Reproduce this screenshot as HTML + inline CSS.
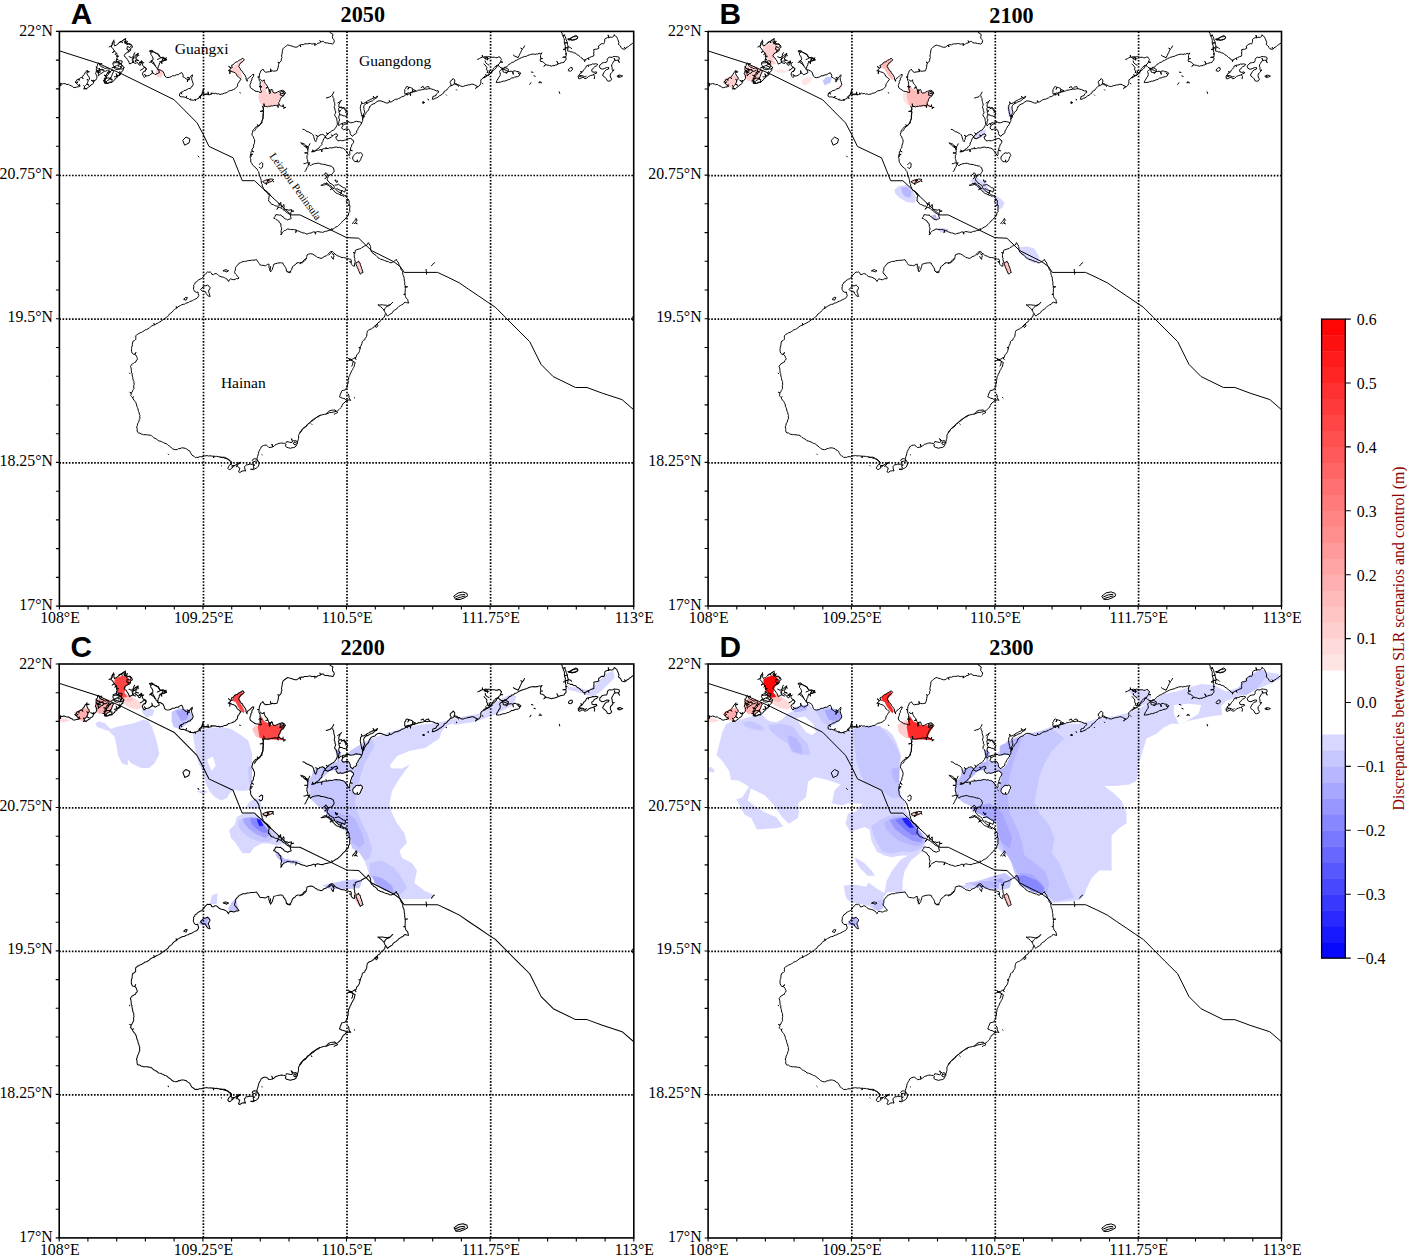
<!DOCTYPE html><html><head><meta charset="utf-8"><style>html,body{margin:0;padding:0;background:#fff;width:1407px;height:1256px;overflow:hidden}svg{display:block}</style></head><body>
<svg width="1407" height="1256" viewBox="0 0 1407 1256">
<defs>
<g id="coast" fill="none" stroke="#000" stroke-width="1.0" stroke-linejoin="round" stroke-linecap="round">
<polyline points="-0.4,51.8 1.2,51.9 1.3,54.7 1.5,51.9 2.7,52.7 4.4,52.1 6,52.4 7.5,53.2 9.2,52.9 10.4,53.9 11.9,54.5 13.2,55 14,56.1 15.6,56.2 17.2,55.6 19.1,55.4 20.9,54.5 19.3,54.1 20.2,53 19.1,54 18.3,52.9 16.9,51.8 18.7,50.4 16.7,51.6 15.6,50.6 17.1,49.7 17.7,48.1 19.5,47.6 19.8,49.1 19.8,47.5 20.9,46.5 22.4,45.9 23.7,47.4 22.6,45.8 23.6,44.9 24.1,43.6 25.2,42.8 25.8,41.1 27.1,39.9 27.9,38.8 27.6,40.5 30,40.3 27.6,40.8 27.5,42.2 28.6,44.4 29.8,45.8 30.2,47.6 28.9,48.9 27.6,47.8 28.7,49.2 28.4,50.8 27.5,52.5 29.8,53.9 27.4,52.8 26.3,54 25.2,55 24.3,54.2 25.1,55.3 25,56.5 27.1,57.7 24.8,56.7 24.3,57.7 25.9,57.1 27.5,57 29.1,55.8 30.7,54.8 31.5,53.5 33.1,53 33.9,51.8 34.3,50.4 31.6,48.7 34.5,50.2 35.2,49.4 33.9,48.9 35.4,49.2 36.4,48.6 37.2,47.2 37.6,45.7 37.2,43.8 36.1,42.2 36.8,40.7 37,39.1 39.6,39.7 37,38.8 36.9,37.4 37.2,35.6 38.2,33.9 38.3,32.3 39.6,31.4 40.1,32.6 42.7,32.3 40.2,32.9 40.3,33.9 41.4,34.8 42.5,35.6 43.9,35.8 44.9,36.9 46.4,37 47.8,36.4 48.8,37.4 49.9,38.2 49.2,39.7 51.4,40.6 49.1,39.9 48.6,41.2 47.3,42.6 46.5,44.4 45.8,45.8 46,47.4 45.7,48.9 45.4,50.3 45.1,51.8 47,52 46.8,50.1 47.3,52 48.9,51.8 50.2,51.4 51.5,50.9 52.9,50.8 53.9,49.5 55.3,48.6 55.9,47.1 57.4,46.5 58.1,44.8 56.9,44.5 58.3,44.5 59.5,43.5 60.7,42.6 59.1,41.3 60.9,42.3 61.6,41.4 62.3,40.1 63.6,39.3 63.9,37.6 64.6,36.1 63.7,34.8 62.5,33.7 61.7,32.3 60.2,31.6 58,30.5 57.2,29.5 57.1,27.8 58.9,28.4 57.2,27.5 58,26.5 57.2,24.9 59.4,24.8 57.2,24.6 57.7,23.3 57.3,21.8 55.7,23.2 57.2,21.6 56.1,20.9 55.3,19.8 53,21.2 55.2,19.6 54.5,18.8 53.4,16.9 51.8,15.6 52.9,13.2 52.9,11.3 54,9.7 55,10.3 54.5,12.4 55.3,14.5 57.4,13.5 58.5,12.6 59.5,11.5 61.6,10.3 63.8,9.2 64.8,8.1 65.9,7.3 66.3,8.8 64.6,10.3 65.6,11.2 66.7,9.2 65.9,11.4 67,11.5 69.1,12.6 70.7,13.1 72.3,13.7 73.2,15.8 71.2,16.9 71.3,18.7 70.2,20.1 68,21.1 65.9,22.2 64.8,24.3 65.7,25.6 67,26.5 67.9,28.1 69.1,29.7 69.7,31.1 70.2,32.6 72.3,31.6 74.2,30.5 73.7,29.1 73.4,27.5 74.4,25.4 75.4,24.2 76.6,23.3 78.7,22.2 77.9,23.6 77.8,25.3 76.6,26.5 76.7,28.3 79.4,29.1 76.6,28.6 75.5,29.7 77.1,30.7 78.7,31.8 79.4,33.3 80.8,33.9 81.9,31.8 82.4,29.7 83,31.8 83.1,33.5 84,35 86.2,36.1 87,37.1 86.2,39.3 84,40.3 83,42.5 83.6,43.7 84,44.9 84.9,46 86.4,44.8 85.1,42.8 86.7,44.6 88.3,44.4 90,43.9 91.5,42.8 93,41.8 92.6,39.1 93.3,41.8 94.7,42.2 95.8,43.3 97.9,42.2 100,41.2 99.5,39 98.3,38.3 97.9,36.9 96.8,36.1 96.3,34.8 95.2,33.9 94.7,32.6 92.6,31.6 91.5,29.5 93.6,28.4 93.6,26.8 93.1,25.4 92.4,24.3 91.5,23.3 91.5,21.4 90.4,19.9 92.6,19.9 94.7,20.9 96.8,22 99,23.3 100,25.4 102.2,26.5 103.9,26.5 102.7,29.3 104.2,26.6 105.4,27.5 107.5,28.4 105.9,28.9 105.5,26.8 105.6,29 104.3,29.5 102.2,29.7 101.3,30.8 100,31.6 99.9,33.3 99,34.8 98.4,37.1 99.3,38.4 100.9,38.6 102.2,39.3 103.8,40.3 104.8,42.5 105.4,44.6 106.8,45.8 108.6,46.2 110.2,45.8 111.8,45.4 113.1,44.3 115,44.4 117.1,43.3 118.9,43.3 120.3,42.2 122.4,41.2 123.2,42.5 123.8,43.9 123.5,45.4 125.3,46.2 126.7,47.6 128.4,47.8 127.9,50.6 128.7,47.9 129.9,48.6 130,47 127.9,46 130.2,46.7 130.9,45.7 131.9,44.5 132.9,43.3 133.1,44.8 132.3,46.1 132.3,47.6 132.7,49.2 133.4,50.8 133.9,52.9 132.9,55 131.6,55.8 130.9,57.2 129.1,57.1 127.7,58.2 126.3,58.9 124.6,59.1 123.5,60.4 121.6,60.9 122.5,62.8 121.3,61.1 120.3,62.5 120.1,64.6 121.7,65.5 123.5,65.4 125,65.7 126.4,66.3 127.3,64.5 126.7,66.4 127.7,67 129.3,67.2 130.5,68.4 131.2,67.3 130.7,68.5 132,68.6 134.1,68.9 135.6,68.1 136.2,69.5 135.9,68 137.3,67.8 139.5,66.8 140.4,65.6 141.1,67.2 140.6,65.4 141.6,64.8 142.4,63.3 142.7,61.6 143.3,60.1 143.7,58.4 144.8,57.4 144,58.6 143.8,60 143.9,61.4 143.7,62.7 145.3,63.2 146.9,63.2 148.3,63.1 149.6,63.2"/>
<polygon points="45.4,47.6 46.9,47.2 48.2,46.6 49.7,46.5 51,47.9 51.6,45.9 51.3,48 52.9,48.1 52.6,49.4 52.4,50.8 50.3,50.7 48.6,51.8 47,52.1 45.4,51.3 45.3,49.4 43.6,49.6 45.3,49.1"/>
<polygon points="54,31.6 55.3,31.4 56.7,31.2 58.1,31.4 59.3,30.5 60.3,31.4 59.1,32.2 60.5,31.7 61.1,32.5 62.1,33.4 62.5,34.8 61.9,36.3 60.5,34.5 61.7,36.5 60.6,37.2 59.3,38 57.7,38.2 56.3,37.8 55,36.9 55.1,35.5 52.4,36.5 55,35.2 54.3,34.3 53.6,33"/>
<polyline points="55,45.4 56.5,45.3 57.9,44.7 56.8,42.2 58.2,44.6 59.3,44.4 60.7,43.6 61.4,42.2 60.4,40.1"/>
<polygon points="38,40.1 39.7,39.9 40.6,38.3 39.7,36.7 40.9,38.2 42.2,38 43.6,38.8 44.4,40.1 43,41.6 41.2,42.2 40.2,43.4 39,44.4 39.2,42.8 38.7,41.4 41.2,40.4 38.6,41.2"/>
<polyline points="139.6,65.7 140.5,64.4 141.7,63.6 142.8,62.5 144.4,62.5 146,62.7 147.5,62.4 148.8,63.2 148.7,60.4 149.1,63.3 150.3,63.2 152,62.8 151.8,61.3 152.3,62.7 153.5,61.6 154.8,62.3 156.4,61.9 157.7,62.7 159.1,62.3 160.6,63.1 162,62.7 163.4,62.5 164.8,61.7 166.3,61.6 168,60.8 169.5,59.5 171.1,59.2 172.6,58.8 174.3,58.1 175.8,57.2 176.8,56 178,55 178.1,53.4 178.6,51.8 179.6,50.9 180.1,49.7 181.7,47.8 180.4,46.8 179.3,45.7 178,44.9 177.4,43.5 176.7,42.4 175.8,41.4 174.3,40.8 172.6,40.3 170.9,39.3 170.4,42.4 170.6,39.2 168.9,39.3 170.7,38 171.5,36.7 169.2,34.9 171.8,36.5 172.9,36.1 172.1,33.9 173.9,33.3 175,31.8 176.5,30.7 178.2,30.2 179.7,28.9 181.4,28.1 183.5,26.8 184.9,28.4 183.3,30.2 181.4,31.3 180.3,32.9 179.3,35 180.6,37.1 181.9,39.3 183.2,40 183.5,41.4 184.6,42.5 186,44.6 186.7,46.1 186.7,47.8 187.8,49.9 187.8,48.1 188.9,46.7 190.5,45.7 192.1,44.1 193.1,43.1 194.5,43 194,45.1 192.6,46.7 192.5,48.5 191.5,49.9 191.6,51.4 190.8,52.8 190.5,54.2 191,56.3 192.5,57.5 194.2,58.4 195.6,59.6 197.4,60 199.1,60.2 200.6,61.1 202.2,60.6 201.5,59 201.1,57.4 200.8,56 202.6,55.3 200.8,55.7 201.2,54.5 199.6,55.2 201.2,54.2 200.6,53.1 200.9,51.6 200.7,50.2 199.9,48.9 199.6,47.4 199.9,46 198.3,45.6 199.9,45.7 199.9,44.6 200.1,42.6 201,40.9 201.4,39.4 202.6,38.7 203.6,37.7 204.8,39.8 206.4,40.9 208.3,40.5 210.2,40.3 211.6,40 211.1,37.4 211.9,40 212.9,39.4 214.4,39.8 216,39.5 217.6,39.3 218.3,37.7 218.7,36.1 219,34.5 219.2,32.9 219.7,31.5 218.4,30.7 219.9,31.3 220.8,30.7 221.9,29.3 221.9,27.5 222.7,26.2 222.1,24.7 222.4,23.3 222.7,21.9 223,20.4 223,19 223.7,17.2 225.1,15.8 226.2,15 227.3,14.3 228.3,13.5 229.7,13.9 231.1,14.3 232.6,14.7 234.1,15.3 235.8,15.8 237.5,15.7 239,14.7 240.4,13.6 241.3,15.5 240.7,13.5 242.2,13.1 243.9,13.3 245.4,12.4 246.8,12.4 248.2,12.4 249.6,12.1 251.1,12 252.4,12.7 253.9,12.4 255.6,12.3 255.5,14.2 255.9,12.4 257.1,13.1 258.4,11.8 260.3,11.5 261.4,10.7 260.4,9.1 261.7,10.6 262.5,10 264,9.9 265,11.2 266.7,11.5 268.3,11.5 269.9,12.1 271.5,12.1 273.1,12.6 274.2,11.8 274.7,10.5 274.9,9 274.1,7.8 273.1,6.7 273.1,5.1 273.6,3 272.3,2.1 270.9,1.4 270.4,-0.4"/>
<polyline points="201.2,48.1 202,49.2 203.4,49.7 204.8,48.4 205,50.2 205.7,51.8 206.6,53.2 207.8,54.2 208.5,55.8 206.5,56.7 208.6,56 209.1,57.4 209.6,58.6 211.1,58.6 209.6,58.9 210.1,59.8 209.8,61.2 210.2,62.5 211,61.4 210.9,60 209.3,59.7 211,59.7 211.9,59 212.3,57.7 213.3,59 213.4,60.6 214.8,61.6 216.6,61.4 218.1,60.5 219.8,59.8 221.4,59.3 223,58.8 224.9,59.8 226.2,61.6 224.8,63.1 224,64.8 221.9,65.9 220.8,68 220.3,69.8 219.2,71.2 219.8,73.4 220.9,74.3 222.2,74.8 223.5,75.1 223.8,73.2 223.8,75.3 224.8,75.7 224.4,77.3 225.1,75.9 226.2,76"/>
<polyline points="219.8,73.4 218.4,73.6 218.8,76.2 218.2,73.7 217.2,74.3 215.8,73.9 214.4,74.2 213.1,74.6 211.8,74.4 210.5,75 209.1,74.8 207.9,75.5 206.3,74.9 205,75.2 204.5,72.2 204.7,75.3 203.8,76 204,77.6 203.7,79.3 200.8,80 203.8,79.6 204.2,80.8 203.8,82.4 203.6,84 203.5,85.6 203.6,87.2 202.8,88.6 202.5,90 202.7,91.5 201.3,92.2 200.6,93.6 199.1,94.6 198,93.1 198.9,94.8 197.9,95.8 196.8,96.9 196,98.3 195,99.6"/>
<polygon points="220.6,60.9 222.2,60.2 223.8,59.8 224.6,61.2 222,62.3 224.7,61.5 225.4,62.5 224.3,63.6 222.8,64.1 220.6,63.6 221.1,62.2"/>
<polyline points="180.4,61.2 181,61.6"/>
<polyline points="310.5,75.3 311.3,74.1 312.4,73.2 313.7,72.6 315.6,72 316.9,70.5 318.7,69.6 320.6,69.4 322.5,69.9 324.4,70.5 325.7,71.2 327.1,71.6 328.6,71.6 330.1,70.7 329.8,69.1 330.4,70.6 331.8,70.5 333.5,69.5 335,68.4 336.4,67.8 338,67.8 339.3,67 340.8,66.6 342,65.4 343.6,65.2 345,64.4 346.3,63.5 347.8,63 349.4,62.7 350.8,62.2 351.2,64.3 351.1,62.1 352.1,61.2 353.4,60.4 353,58.1 353.7,60.3 355,60.5 356.4,59.8 357.8,59.6 359.1,58.7 360.6,58.8 362,58.3 363.5,58.1 364.9,57.7 366.3,57.6 367.8,57.8 369.2,57.2 370.8,57.3 372.4,57.7 374,58.1 375.5,58.8 377.1,59.5 378.7,59.3 379.3,60.9 378.1,61.6 377.1,62.5 376.6,64.1 375,64.6 373.4,65.2 373.3,66.5 372.9,67.8 374.6,67.7 376.1,66.8 377.5,66.4 378.7,65.6 379.8,64.6 381.5,63.8 383,62.5 384.3,61.7 384.8,60 386.2,59.3 387.5,58.5 388.3,57.1 389.4,56.1 390.8,54.7 392.6,54 393.9,53.5 394.7,52.4 396.2,53.2 397.9,53.4 399.6,53.6 401.1,54.5 402.7,55 404.3,55 405.8,54.2 407.5,54 408.9,53.4 410.4,53.5 411.8,52.9 413.5,52.8 415,53.4 416.6,54.3 418.2,55 416.9,55.9 416.1,57.2 417.5,55.9 419.3,55 420.6,53.6 421.4,51.8 421.4,50.2 421.4,48.6 422.4,47.5 423.7,46.7 424.6,45.4 425.8,44.8 427.1,44.5 426.2,42.9 427.4,44.4 428.3,43.6 429.6,43.3"/>
<polygon points="345.7,62.5 345.2,61.1 345.5,59.6 345.2,58.2 346.2,57.3 346.6,55.8 347.8,55 349.3,55.8 348.5,58 349.6,55.9 351,56.1 352.8,56.9 354.2,58.2 356.4,59.3 354.6,59.7 353.2,60.9 351.7,60.7 350.4,61.6 348.9,61.4 347.3,62.1 348,63.8 347,62.1"/>
<polyline points="361.7,56.1 363.8,55 364.9,57.2 366,56.5 367,55.6 369.2,55 370.2,57.2"/>
<polyline points="391.5,54 391.6,52.5 390.7,51.2 391,49.7 392.6,48.6 393.7,47 395.3,48.6 395.3,50.3 394.7,51.8 396.4,52.1 397.9,52.9 399,55"/>
<polygon points="363.8,70.5 364.9,71 364.4,71.6"/>
<polyline points="368.6,67.8 368.9,68.2"/>
<polyline points="386.7,63.4 387.1,63.8"/>
<polyline points="396.9,58.2 397.3,58.7"/>
<polyline points="423,51.8 423.5,52.4"/>
<polyline points="418.2,27.9 419.9,27.3 421.4,26.3 423,25.8 422.9,23.7 423.3,25.7 424.6,25.7 425.3,27.1 427.7,25.2 425.6,27.3 426.7,27.9 428.1,27.2 429.6,27.3"/>
<polyline points="425.7,29.5 426.3,31.3 427.8,32.6 429.6,33.7"/>
<polyline points="424.6,46.5 426.2,45.5 427.8,44.4 429.6,43.6 431,42.2 431.7,40.9 432.7,41.6 431.9,40.6 432.7,39.7 433.5,38.4 434.1,36.9 435.3,35.8 436.6,34.4 438.5,33.7 439.6,34.7 440.6,35.8 442.7,36.9 444.2,36.8 445.4,35.7 447,35.8 447.9,34.6 449.1,33.7 450,32.6 451.4,32.2 452.3,31 454.1,30.7 455.5,29.5 457.2,28.9 458.7,27.9 460.3,27.1 461.9,26.3 463.5,25.7 465.1,25.2 466.8,24.9 468.3,24.1 469.7,23.6 471.1,23.1 472.6,22.8 474,22.6 475.5,23.1 476.8,22.5 478.3,22.7 479.7,21.9 481.1,22.2 482.7,21.5 481.7,22.6 481.1,24.1 481.2,25.6 481.3,27.1 483.2,27.1 481.3,27.4 480.7,28.5 481.1,30 482.8,30.2 484.3,31 485.2,32.2 486.3,32.9 484.4,35 486.6,33.1 487.5,33.7 489,33.8 490.4,34.2 491.8,34.8 493.1,34.3 494.7,34.3 496,33.7 497.5,33.4 498.8,32.6 497.4,29.8 499.1,32.5 500.3,32.1 501.7,31.5 503.1,31.2 504.6,31 505.1,29.7 506.4,28.8 506.7,27.3 506.4,25.7 503.3,25.9 506.4,25.4 506.8,24.1 506.2,22.5 507.6,22.6 506.2,22.2 506.7,20.9 506,19.5 506.2,17.9 503.8,18 506.2,17.6 505.6,16.5 508.3,16.5 505.6,16.2 506,14.9 505.6,13.5 505,12 507.8,11.1 505,11.7 504.9,10.5 505,8.9 504.8,7.4 504,6 503.6,4.6 505.7,3.6 503.4,4.4 502.9,3.4 502.8,1.8 501.9,0.7"/>
<polygon points="508.8,7.6 510.3,7.3 511.8,6.8 513.1,6 514.7,4.9 516.3,3.9 517.4,4.6 518.4,5.5 517.4,7.6 515.9,8 514.4,8 513.1,8.7 511.7,8 510.2,8.2"/>
<polyline points="424.6,25.7 426,25.1 427.5,25.7 428.2,28.8 427.8,25.7 428.9,25.2 430.5,25.4 432.1,25.7 433.5,25.9 434.9,25.7 436.3,26.3 437.8,26.3 439.1,25.5 440.6,25.7 441.2,26.9 442.2,27.9 441.5,29 441.1,30.3 443.4,30.8 441,30.6 440.6,31.6 439.4,32.5 438.8,34.1 437.4,34.8 436.7,36.6 435.3,38 434.1,39 432.8,39.8 432.1,41.2 430.6,41.3 429.7,39.1 430.3,41.4 429.4,42.2 428.4,40.7 427.5,41.5 428.3,40.5 427.8,39 427.1,37.7 427.5,36.1 426.7,34.8 425.6,33.8 424.6,32.6"/>
<polygon points="436.9,50.8 437.6,49.1 438.5,47.6 439.4,45.9 440.6,44.4 440.9,42.9 440.7,41.5 440.1,40.1 441.2,38.8 442.7,38 444.2,38.1 445.6,38.4 447,39 448.5,40 450.2,40.1 451.6,39.7 453.1,40.2 453.9,43 453.4,40.2 454.5,39.6 455.9,39.4 457.3,40.2 458.7,40.1 460.1,40.9 461.4,41.7 460.6,43 458.5,41.4 460.4,43.3 459.8,44.4 458.3,45.2 456.6,45.4 455.2,45.8 453.8,46.5 452.3,46.5 451,47.5 449.6,48.2 448.1,48.6 446.7,49.2 445.3,49.7 443.8,49.7 442.2,50.3 440.6,50.8 438.7,51"/>
<polygon points="442.7,36.9 444.4,37 445.9,36.4 447.5,37.1 449.1,38 448.6,39.6 448.1,41.2 446.7,40.8 446.9,42.1 446.4,40.8 445.2,41 443.8,40.6 443.5,38.7"/>
<polyline points="472,40.6 473.6,41"/>
<polyline points="474.5,44.4 475.8,44.9"/>
<polyline points="470.4,52.9 471.5,51.3"/>
<polyline points="479.5,51.3 480.8,51.2 480.5,50 481.1,51.2 482.2,51.3"/>
<polyline points="499.8,60.4 500.3,62"/>
<polyline points="453.9,23.6 455.1,24.6 456.6,25.2 458.7,26.3 459.8,24.1 460.5,22.5 461.4,20.9 462,19.3 462.9,17.9 461.3,16.7 463,17.6 464,16.7 465.1,14.5"/>
<polyline points="203,74.9 203.9,76.6 204.1,78 203.7,79.4 203.9,80.8 203.8,82.2 203.9,83.6 203.7,85 203.7,86.3 203.4,87.6 203,88.9 202.3,90.3 201.6,91.7 200.5,92.9 199.5,94.1 198.4,94.9 197.1,95.3 196,95.9 195.1,97.1 194.1,98.1 193.4,99.4 193.1,101.2 192.5,102.9 193,104.3 194,105.4 194.4,106.9 195.1,108.2 195.3,109.6 195.1,111 194.9,112.4 194.1,113.7 194.2,115.2 193.8,116.6 192.6,117.6 192.5,119.2 194.4,120.5 192.4,119.5 191.6,120.4 191.6,121.8 191.2,123 193.4,122.9 191.1,123.3 191,124.4 192.3,124.5 190.9,124.7 190.7,125.7 191.1,127 191.4,128.3 191.3,129.6 191.6,130.9 192.5,132.1 193.1,133.5 194.2,134.4 195.3,135.7 196.7,136.7 197.8,137.9 198.2,139.1 199.2,140.1 199.5,141.4 199.8,142.8 200.1,144.2 200.6,145.5 201.3,146.7 201.5,148 201.8,149.3 201.9,150.6 202.1,151.9 202.9,153.1 202.8,154.6 203.7,155.8 203.9,157.2 205.2,158.2 206.2,159.5 207.4,160.7 208.3,161.9 209,163.2 210,164.2 209.6,165.5 209.4,166.8 209.4,168.2 209.1,169.5 210.5,170.5 211.3,172 212.6,173 214,173.2 215.2,174.1 216.5,174.6 217.9,174.7 219,175.5 217.5,178 219.3,175.6 220.2,176 221.4,176.5 222.7,177.1 223.7,178.3 224.9,179.1 226.2,179.8 227.1,181.1 228.4,181.7 229.7,182.6 231,183.5 231.2,185.3 231.9,187 230.8,187.6 229.4,187.8 228.4,188.7 227.3,187.9 226.1,187.6 224.9,187 224,185.5 222.4,184.8 221.4,183.5 220.1,183.8 218.8,183.5 217.5,183.2 216.1,183.5 215.9,184.8 214.9,185.8 214.4,187 215.7,187.2 216.7,188.2 217.9,188.7 219.3,189.6 220,191.3 221.4,192.2 221.5,193.6 221.5,194.9 222,196.2 222.3,197.5 221.8,199 221.6,200.5 221.9,202.1 221.4,203.6 222.4,202.6 222.8,201.2 223.9,200.2 224.9,199.2 226.2,198.9 227.3,198.1 228.4,197.5 229.8,197.9 231.2,198.1 232.6,198.2 234,198.1 235.4,198.4 236.9,198.6 236.3,201.3 237.2,198.7 238.2,199.4 239.7,199.8 241,200.6 242.4,201 243.7,201.6 245.1,201.6 246.4,202.3 247.7,202.7 248.9,202.1 250.3,201.8 251.7,201.6 252.9,201 254.2,200.4 255.6,200.8 256.1,202.8 255.9,200.7 256.9,200.6 258.2,200.1 259.5,200.3 260.8,200.7 262.1,200.7 263.4,201 264.7,200.3 266,199.9 267.4,199.8 268.7,199.2 270.1,199.1 271.4,198.7 272.8,198.3 272.4,197 273,198.2 273.9,197.5 275.2,196.5 276.5,195.6 278,195.1 279.2,194 280.4,193 281.4,191.9 282.4,190.9 283.3,189.7 284.5,188.7 285.7,187.7 286.6,186.2 288,185.2 288.9,184.1 289.1,182.5 289.6,181.1 290.6,180 290.2,178.7 290.3,177.3 290.4,176 290.6,174.7 290,173.5 288.5,173.9 290,173.2 289.8,172.1 289.7,170.8 289.7,169.5 289,168.2 286.8,170.1 288.8,168 288.1,167.1 287.1,166 286.2,164.9 286.8,163.7 285.9,164.7 285.1,163.9 283.7,163.5 282.7,162.5 281.6,161.8 280.5,161.1 279.2,160.7 278.1,159.5 276.7,158.5 275.7,157.2 275,156.1 274.6,154.8 273.9,153.7 272.8,153.1 271.7,152.3 270.4,151.9 269.8,150.6 268.6,149.7 267.8,148.4 268,147 268.7,145.6 268.7,144.1 270.4,143.5 272.2,143.2 273.2,142.1 274,140.9 274.8,139.7 274.4,137.9 273.9,136.2 272.8,135.6 271.8,134.7 270.4,134.4 268.7,134.1 266.9,133.6 265.7,133.1 264.3,133 263,132.8 261.7,132.7 260,131.9 258.2,131.8 256.7,132.1 255.3,132.3 253.8,132.7 252.3,133.3 251.2,134.4 250.3,133.3 249.2,132.3 248.5,130.9 248.4,129.6 248.1,128.3 247.5,127 247.7,125.7 247.5,124.3 248.4,123.1 248.2,121.7 245.2,121.5 248.2,121.4 248.5,120.4 248.4,118.9 248,117.5 247.7,116 246.9,114.7 245.9,113.4 244.9,112.6 243.7,112.1 242.4,111.7"/>
<polyline points="261.7,153.7 263,153.4 264.1,152.6 265.2,151.9 266.4,152.5 267.2,151.2 266.7,152.6 267.4,153.4 268.7,153.7 269.9,154.8 271.2,155.9 272.2,157.2 273.5,158.3 274.6,159.5 275.7,160.7 276.7,161.6 277.9,162.2 279.2,162.5 280.4,163.3 281.6,162 280.7,163.5 281.7,164 283.2,164.3 284.5,165.1"/>
<polyline points="275.7,153.7 277.5,153.6 279.2,152.8 280.3,153.8 281.6,154.6 282.7,155.4 283.8,156.2 285.1,156.4 286.2,157.2 285.8,159 285.3,160.7 284,159.9 282.5,159.2 281.4,161.7 282.3,159.1 281,159 279.8,158.4 278.6,157.8 277.4,157.2"/>
<polyline points="293.2,192.2 293.9,190.8 295.1,189.7 296.1,188.5 296.7,187 297.6,188.7 296.9,190.1 296.1,191.3 297.9,192.4 295.9,191.5 295,192.2"/>
<polyline points="237.5,231.7 236.3,232.5 235.4,233.8 234,234.4 233.2,235.4 232.7,236.6 232.3,237.9 231.6,239 231,240.2 230.5,241.4 229.3,240.8 228.1,240.3 227,239.6 226.9,237.8 226.1,236.1 225.2,234.7 224.1,233.4 223.5,231.7 222.2,231.4 220.9,231.4 219.6,231.5 218.2,231.7 216.5,232.2 214.7,232.6 214,233.8 213.9,235.2 213.3,236.5 213,237.9 212.1,239.2 211.2,240.5 210.7,239 210.3,237.5 209.5,236.1 209.6,234.4 209.5,232.6 208.2,233 207.1,233.7 206,234.4 204.7,234.1 203.4,233.9 202,233.9 200.7,233.5 199.8,232.2 199,230.9 198,229.6 197.2,228.2 195.9,228.5 194.6,228.7 193.3,228.9 192,228.8 190.6,229.1 189.2,229.2 187.8,229.4 186.4,230 185,230 183.6,230.1 182.3,230.8 181,231.3 179.7,231.7 179.1,233 177.8,233.8 177.1,235 176.2,236.1 176,237.4 176,238.8 175.3,240 175.3,241.4 176.2,242.6 177.3,243.6 178,244.9 179.7,246.6 178.5,247.4 177,247.2 175.8,247.9 174.5,248.4 172.7,247.9 171,247.5 169.8,248.6 169.2,250.1 168.3,248.8 167.4,247.5 166.3,247 165.1,246.3 163.9,245.8 162.1,245.5 160.4,244.9 159.2,244.1 158.2,243 156.9,242.2 155.4,242.2 154.1,243.2 152.6,243.1 152,241.6 150.8,240.5 149.5,240.9 148.2,240.5 146.4,242.2 144.7,244 144,245.4 142.9,246.6 141.8,247.4 140.6,247.7 139.4,248.4 138.2,249.2 137.3,250.4 135.9,251 135.4,252.5 134.2,253.6 134.5,255.1 134.1,256.6 134.2,258 134.9,259.4 135.9,260.6 137.2,260.9 138.5,260.6 138.8,262.4 139.4,264.1 138.7,265.5 137.7,266.8 136.5,267.3 135.3,268 134.2,268.5 132.9,269.3 131.5,269.8 130.1,270.3 128.9,271.1 127.6,271.5 126.2,271.9 125.1,272.8 123.7,272.9 122.2,273.4 121,274.2 119.7,274.8 118.4,275.5 117.5,276.7 116.8,275.1 117.2,276.9 116.1,277.3 114.9,278.2 113.7,279.3 112.8,280.7 111.4,281.7 110,282.6 109.2,284.2 107.9,285.2 106.8,286.1 105.6,287 104.4,287.8 103,288.6 101.9,289.7 100.5,290.5 99.1,291.3 97.9,292 96.4,292.5 95.3,293.6 94.5,291.9 95.1,293.7 93.9,293.9 92.4,294.5 91.1,295.4 89.9,296.5 88.6,297.4 87.3,298.1 85.8,298.4 84.7,299.4 83.4,300.1 82.2,301 80.7,301.3 79.5,302.2 78.1,302.7 76.4,304.4 76.4,306.2 76.4,307.9 75.2,309.1 73.7,309.7 73.1,311.4 72.9,313.2 72.9,314.6 72.2,315.8 72.2,317.1 72,318.4 72.2,320.2 72.9,321.9 73.9,322.8 75.3,323 76.5,321 75.5,323.1 76.4,323.7 77.1,324.8 77.5,326.1 78.1,327.2 77.7,328.5 76.6,329.4 76.4,330.7 75.1,331.1 74.1,331.9 72.9,332.5 71.9,333.7 71.1,335.1 71.7,336.5 71.9,338 72,339.5 72,340.8 72.7,342 72.8,343.4 72.9,344.7 73.4,346 73.5,347.4 73.8,348.8 74.6,350 74.5,351.4 74.8,352.8 74.4,354.2 74.3,355.6 74.6,357 74,358.1 73.2,359.2 72.9,360.5 71.9,361.5 70.4,360.9 71.8,361.8 71.9,362.9 71.1,364 72.2,365 73.1,366.1 74.2,365.3 73.3,366.4 73.7,367.5 74.5,368.7 75.5,369.8 76.4,371 76.8,372.3 77.4,373.6 77.4,375 78.1,376.2 78.6,377.5 78.8,378.9 79.2,380.3 79.9,381.5 79.9,382.8 80.6,384.1 80.2,385.5 80.7,386.8 79.9,388.1 79.6,389.7 79,391.1 78.1,392.5 78,394.1 77.2,395.5 77.7,396.8 77.7,398.1 77.8,399.5 78.1,400.8 79.1,401.6 80.6,401.6 81.6,402.5 82.9,402.9 84.2,403.3 85.6,403.2 86.9,403.4 88.2,403.4 89.5,403.8 90.9,403.7 92.1,404.3 93.2,405.2 94.3,406.3 95.6,406.9 96.9,407.6 98.2,408.4 99.1,409.5 100.5,409.7 101.9,410.1 103.1,410.7 104.4,411.3 105.5,412 106.8,412.2 107.9,413 109,414 110.2,414.8 111.4,415.7 113.1,417.4 114.8,418.1 116.7,418.3 118,418.1 119.2,417.1 120.7,417.3 121.9,416.5 123.3,416.5 124.6,416.6 125.9,417 127.2,417.4 128.1,418.5 129.5,419.2 130.7,420 131.1,421.3 131.8,422.4 132.4,423.5 133.6,424.4 134.9,425.1 135.9,426.2 137.2,425.9 138.6,426.1 139.8,425.4 141.2,425.3 142.5,425.4 143.8,424.9 145.1,424.5 146.4,424.4 147.7,424.2 149.1,424.6 150.4,424.5 151.7,424.4 153.1,424.9 154.5,424.6 154.1,426.6 154.8,424.7 155.9,425 157.3,424.9 158.7,425.3 160,425.3 161.3,426 162.6,426.2 163.9,426.2 165.2,426.9 166.6,427 167.8,427.7 169.2,427.9 169.8,429.3 171.2,430 171.8,431.4 171.7,433 172.8,434.3 175.5,434.1 172.8,434.6 172.7,435.8"/>
<polyline points="246.3,227.4 244.8,228.3 243.8,229.5 242.8,230.9 241.5,231.2 240.2,231.5 238.8,231.2 237.5,231.7"/>
<polygon points="144.7,254.5 146.5,254.4 148.2,253.6 149.6,254.8 150.8,256.3 150.4,257.5 149.6,258.6 149.1,259.8 149.4,261.1 150,262.4 150.2,263.8 150.8,265 149.4,264.8 148.2,264.1 147.5,263 146.7,262 146.4,260.6 144.7,260.1 142.9,259.8 141.2,258 142.3,256.8 143.5,255.7"/>
<polygon points="163.9,239.3 165.2,238.6 166.6,238.2 167.8,238.9 169.2,239.3 167.4,240.5 165.7,239.8"/>
<polygon points="124.5,267.6 126.3,265.9 128,266.2 126.8,268.5"/>
<polyline points="108.8,422.7 109.3,423.2"/>
<polyline points="70.2,341.7 70.6,342.3"/>
<polyline points="211.2,235.2 211.1,237.1 210.4,238.7"/>
<polyline points="227,239.3 228.8,241 230,240.4 231.4,240.5"/>
<polyline points="240.6,232.2 241.7,231.6 243,231.3 244.1,230.5 245.3,229.1 246.7,227.9 247.1,226.4 247.4,225 247.6,223.5 249.3,222.7 251.1,222.3 253,222.6 254.6,223.5 255.8,224.4 257.1,225 258.1,226.1 259.9,226.4 261.6,227 263.1,226.6 264.1,225.4 265.5,224.9 266.9,224.4 268.2,223.3 269.4,222.2 270.4,220.9 271.6,220.1 273,220 274.3,221.3 275.6,222.6 276.8,223.6 278.3,224.4 279.8,224.9 281.1,225.6 282.6,226.1 284.2,226.1 285.6,226.4 287,227 288.5,227.3 289.9,227.7 291.4,227.9 291.9,229.1 291.9,230.5 290.1,230.3 291.9,230.8 291.8,231.8 292.3,233.1 293.4,234.3 294.9,234.9 295.4,233.6 295,232.2 295.7,231 295.8,229.6 295.2,228.4 295.5,227 294.8,225.7 294.9,224.4 294.9,223 295.5,221.8 293.8,221.2 295.5,221.5 295.9,220.5 295.8,219.1 297.2,218.3 298.7,217.9 300.2,217.4 301.5,217.1 302.4,216.1 303.7,215.6 304.7,214.8 305.9,214.3 307.2,213.9 308.2,212.6 308.9,211.2 309.7,212.6 310.7,213.9 311.1,215.1 311.3,216.5 311.3,217.8 311.5,219.1 312.1,220.5 313.4,221.4 314.2,222.6 315.5,223.2 316.7,224.1 317.7,225.2 318.6,226.4 320,227 321.2,227.9 322.5,228.1 323.9,228.6 325.1,229.2 326.4,229.6 327.7,230.1 329.1,230.2 330.3,231.2 331.7,231.4 332.9,230.8 334.1,230.4 335.2,229.6 336.9,227.9 337.3,229.3 338.5,230.4 339.1,231.7 339.6,233.1 340,234.4 340.8,235.4 341.3,236.6 341.6,237.9 342.4,239 343.1,240.1 343.4,241.5 343.4,243 343.9,244.4 344.6,245.7 344.8,247.1 344.8,248.6 345.2,249.9 345.4,251.3 345.2,252.8 345.7,254.1 345.6,255.5 348.2,255.4 345.6,255.8 345.9,256.9 345.9,258.3 345.8,259.7 345.7,261.1 345.8,262.5 344.3,263.1 345.8,262.8 345.8,263.8 346.1,265.1 346.6,266.4 348.3,268.2 348.7,269.9 349.2,271.7 347.4,271.3 345.7,270.8 344.5,271.7 343.6,272.8 342.2,273.4 341,274.2 339.7,274.9 338.7,276 337.6,277 336.5,278 335.2,278.7 333.8,279.7 333.1,281.3 331.7,282.2 330.4,282.9 329.2,283.7 328.2,284.8 327.3,283.5 326.4,282.2 325.7,281.1 325.1,279.9 324.7,278.7 322.9,276.9 321.2,275.2 319.8,274.3 318.5,273.4 320,273.6 321.5,273.4 322.9,273.4 324.2,273.6 325.6,273.8 326.9,273.8 328.2,274.3 329.3,273.6 330.7,273.5 331.7,272.5 333.4,270.8 332.1,272.1 330.8,273.4 329.4,274.4 327.7,274.8 326.4,276 325.4,277.3 324.7,278.7"/>
<polyline points="326.4,282.2 325.6,283.2 325.5,284.6 324.7,285.7 323.6,287 322.2,287.9 321.2,289.2 320.2,290.6 318.6,291.3 317.7,292.7 316.3,293.6 315.1,294.8 314.2,296.2 313,296.7 311.9,297.6 310.7,297.9 309.3,298.7 308,299.7 307.8,301 307.4,302.3 307.5,303.6 307.2,304.9 306.5,306.1 305.7,307.1 305.4,308.4 303.9,309.1 302.8,310.2 302.6,312 301.9,313.7 301.1,314.9 301,316.3 299.4,316.2 300.9,316.6 300.6,317.6 300.2,319 299.9,320.3 299.2,321.4 298.4,322.5 297.5,323.4 297,324.7 296.7,326 295.4,326.3 296.6,328.1 295.1,326.4 294.3,327.1 293.1,327.7 291.4,328.2 289.6,328.6 291.4,329 293.1,329.5 294.4,330.4 295.8,331.2 295.2,332.9 294.9,334.7 294.3,335.9 293.6,337 293.1,338.2 292.3,339.3 291.8,340.5 291.4,341.7 290.6,342.8 290.3,344.1 289.6,345.2 289.2,346.5 289.2,347.9 288.7,349.1 288.8,350.5 288.7,351.8 288.1,353.1 288.2,354.4 287.9,355.7 286.8,356.9 286.1,358.4 284.4,358.9 282.6,359.2 282,360.4 281.6,361.6 280.9,362.7 280.7,364.1 280,365.4 281.5,366 282.8,366.8 284.4,367.1 285.6,367.5 286.6,368.5 287.9,368.9 289.6,368.5 291.4,368.9 290.3,367.7 289.6,366.2 289.6,364.4 288.8,362.7"/>
<polyline points="287.9,368.9 286.5,369.5 285.7,370.8 284.4,371.5 283.4,372.7 282.6,374.1 282.1,375.6 280.9,376.8 279.6,378.1 278.3,379.4 277,379.9 275.6,380.3 273.9,380.7 272.1,381.1 270.3,381.2 268.6,382 266.9,382.7 265.1,382.9 263.4,383.3 261.6,383.8 260.3,384 259.5,385.3 258.1,385.5 256.9,386.3 255.7,387.1 254.6,388.1 253.6,389.2 252.2,389.8 251.1,390.8 250,391.7 248.6,392.3 247.6,393.4 246.6,394.8 245.1,395.6 244.1,396.9 243,397.8 242.5,399.2 241.7,400.4 240.6,401.3"/>
<polygon points="296.7,231.4 298.1,230.7 299.3,229.6 299.5,231 300.8,231.8 301,233.1 301.3,234.5 302,235.7 302.3,237.1 302.8,238.4 303.1,239.7 303.7,241 302.2,241.6 301,242.8 300.4,241.6 299.9,240.4 299.3,239.3 298.8,237.7 298,236.4 297.5,234.9 296.8,233.2"/>
<polyline points="366.7,238 366.8,239.6 367.3,241.2 367.1,242.8"/>
<polyline points="372,234.5 373,233.4 373.8,232.2 375.1,231.4"/>
<polyline points="269.5,223.5 270.9,222.3 272.1,220.9 273,222 273.7,223.3 275.1,222.1 273.9,223.6 274.8,224.4 274.1,226.1 273.9,227.9 272.8,226.7 272.1,225.2"/>
<polyline points="315.9,295.3 316.8,294 317.7,292.7 318.5,294.4 316.8,296.2"/>
<polyline points="287.9,329.5 289.2,329.1 290.2,328.3 289.1,326.6 290.5,328.1 291.4,327.7 292.8,329 294,330.3 293.3,331.7 293.1,333.4 292.3,334.7"/>
<polyline points="266.9,382 268.2,381.4 269,380 270.4,379.4 271.6,378.9 273,378.8 274.3,378.8 275.6,378.5 276.8,380 278.3,381.1 277.1,381.8 275.9,382.2 274.8,382.9"/>
<polyline points="294.9,366.2 295.4,366.6"/>
<polyline points="160.6,425.8 162,425.7 163.4,425.9 164.9,425.8 166.4,426.4 167.7,427.2 169.1,428.2 170.6,429 172.3,430.8 172,432.6 169.8,434 169.1,435.4 168.4,436.8 169.8,438.3 171.3,437.9 172.2,436.8 173.4,436.1 174.3,434.9 175.5,434 177.7,432.6 179.8,431.1 181.2,431.1 179.1,432.6 177.7,434 179.1,436.1 180.5,436.8 179.8,439 179.1,440.4 180.5,441.1 182.6,439.7 184.8,439.3 186.2,439.7 185.5,437.5 185.1,435.4 186.1,434.4 186.9,433.3 188.4,433.4 189.7,432.9 191.2,432.8 192.6,432.9 194,432.6 194,434 195.5,433.6 194,434.3 194,435.4 194.7,436.8 193.3,437.9 191.2,437.9 192.6,438 194,438.3 195.4,437.4 196.8,436.8 198.1,435.9 199,434.7 199.7,432.6 199.3,430.4 198.3,429 196.8,427.6 195.4,427.3 194,427.6 192.9,429 194,430.4 196.1,429.7 198.3,429.7 197.9,428.3 197.6,426.9 198.1,425.2 198.7,423.6 199,421.9 199.5,420.1 200.4,418.4 201.3,417 201.8,415.5 204,414.1 205.4,413.8 206.8,413.7 208.2,414.8 209.6,416.2 211.8,415.9 213.3,415.5 212.5,412.6 213.5,415.4 214.6,414.8 215.6,413.8 216.7,413 218.2,412.6 219.6,412 221,411.7 222.4,411.6 223.8,411.9 225.3,412 226.7,413 226,414.8 227.4,415.9 229.2,416.4 231,416.9 232.7,416.3 234.5,416.2 236.6,414.8 237.2,413.3 238.1,412 237.4,409.8 235.9,409.1 234.5,409.8 233.1,408.4 231.7,407.3 232.6,408.8 233.1,410.5 231.7,411.2 230.3,410.8 228.8,410.5 227.1,410.2 226.7,411.2"/>
<polyline points="238.1,411.2 238.3,409.8 238.8,408.4 239.1,407 239.3,405.6 239.1,404.1 240.2,402 240.8,400.5 241.6,399.2 242.8,398.2 243.8,397 245.9,396 247.1,394.8 248,393.5 249,392.4 250.2,391.3 251.6,389.9 252.6,389 253.7,388.1 255.2,387.4 256.5,386.4 258.7,384.9 260.6,383.9"/>
<polygon points="234.5,411.2 235.9,410.5 237,412 235.9,413.4 234.5,412.7"/>
<polyline points="176.9,435.4 177.8,433.8 179.1,432.6 180.1,431.6 181.2,430.8"/>
<polyline points="162,434.3 162.3,434.6"/>
<polyline points="202.5,423.3 202.8,423.5"/>
<polyline points="251.9,392.4 252.6,393.1"/>
<polygon points="123.6,108.6 126.6,105.6 130.6,107.6 129.6,111.6 125.6,113.6"/>
<polyline points="138.6,124.6 139.6,125.6"/>
<polygon points="394.6,564.6 398.6,561.6 403.6,560.6 407.6,562.1 408.1,564.6 404.6,566.6 400.6,568.1 396.6,568.1"/>
<polyline points="396.1,565.6 400.6,563.6 405.1,563.1"/>
<polyline points="397.1,567.1 402.1,565.6 405.6,564.6"/>
<polyline points="574.1,284.6 572.1,287.1 574.1,290.1"/>
<polyline points="266.9,66.6 268.6,66 270.4,65.6 271.6,64.8 272.6,63.8 273.4,62.6 274.4,60.6"/>
<polyline points="273.4,64.6 273.5,65.9 274.4,67.1 274.4,68.6 274.6,69.9 275,71.2 275.4,72.5 275.4,73.9 274.9,75.2 274.9,76.5 275.7,77.7 275.6,79.3 276.4,80.5 276.1,81.8 275.3,83.1 275.4,84.5 276.7,85.8 277.4,87.5 277.5,88.8 277.7,90.1 277.9,91.4 278,92.9 277.4,94.1 276.9,95.4 275.4,97.4 274.1,98.8 272.4,99.4 271.1,100.6 269.4,101.4 268.7,102.7 266.9,101.4 268.5,102.9 267.4,103.4 265.9,105.4 264.4,107.4 263.8,108.8 263.4,110.3 262.4,111.5 262.5,113.2 261.4,114.3 260.4,115.3 259.7,116.5 258.5,117.3 257,118.3 255.5,119.3 254,119.8 252.5,120.3"/>
<polyline points="278.4,71.5 279.8,70.7 281.2,69.8 282.3,68.6 281.1,69.9 280.4,71.5 279.6,72.9 279.4,74.5 279.7,75.8 282.5,75.9 279.7,76.1 279.2,77.2 279.4,78.5 279.5,79.9 281.3,79.2 279.6,80.2 279.6,81.3 280.4,82.5 279.8,83.9 279.4,85.5 279.5,87.1 280.4,88.5 279.5,89.8 279.4,91.4 279,92.9 279.4,94.4 280.3,93.4 281.3,92.4 282.9,92 283,93.7 283.2,91.9 284.3,91.4 285.9,91.3 287.3,90.4 289.3,90.4 287.8,91.5 286.3,92.4 284.6,93.1 283.3,94.4 282.3,96.4 283.1,97.6 284.3,98.4 285.8,97.8 287.3,97.4 289.3,97.9 290.3,99.4 290.8,100.7 290.8,102.1 291.3,103.4 293.3,104.9 294.5,103.3 296.3,102.4 297.3,101.2 297.2,99.5 298.3,98.4 298.8,97 299.6,95.7 300.3,94.4 301.6,93.2 302.2,91.4 300.3,90.4 298.7,90.3 297.3,89.9 295.7,90.2 294.3,90.9 292.8,91.2 291.3,91.4 289.3,90.4"/>
<polyline points="282.3,76.5 284.3,76.5 285.3,78.1 286.3,79.5 287.1,80.7 288.3,81.5 287.6,82.7 287.4,84.1 287.3,85.5 285.3,84.5 283.7,84.3 282.3,83.5 280.4,83.5"/>
<polyline points="302.2,91.4 302.9,90.2 303.3,88.9 303.2,87.5 304.3,86.4 304.3,84.7 302.7,84.2 304.5,84.5 305.2,83.5 306.2,82.5 306.8,80.9 308.2,79.8 309.2,78.5 309.7,76.9 310.3,75.3"/>
<polyline points="303.2,87.5 303.2,85.8 305.1,85 303.1,85.5 302.2,84.5 302.3,82.9 301.7,81.5 301.5,80 301.2,78.5 300.8,76.8 301.2,75.2 301.2,73.5 302.5,72.4 302,70.3 302.8,72.2 304.2,72 305.7,71.4 306.9,70.4 307.6,71.8 307.2,70.3 308.2,69.5 309.6,69 310.8,68.1 312.2,67.6 313.5,66.9 314.8,66.4 313.7,64.6 315.1,66.3 316.2,66.1 318.2,64.6 317.2,66.6 315.4,67.2 314.2,68.6 313,69.5 311.5,69.9 310.2,70.5 308.9,71.3 307.6,71.9 306.2,72.5 305,73.8 304.2,75.5 304.6,76.8 304.5,78.3 305.2,79.5 305.1,81.2 304.1,82.7 304.2,84.5"/>
<polyline points="252.5,120.3 253.9,120.4 253.2,118.4 254.2,120.3 255.3,120.1 256.5,119.3 257.7,118.7 259.2,118.8 260.5,118.3 262.2,118.2 262.4,120.6 262.5,118.2 263.7,117.4 265.4,117.3 267.1,117.1 266.6,115.9 267.4,117.1 268.8,117.1 270.4,116.3 272.1,116.6 273.7,116.3 275.4,115.8 277,115.6 278.7,116.2 280.4,115.8 281.6,116.6 283.1,116.6 284.3,117.3 285.5,118.1 286.3,119.3 287.6,120.6 288.3,122.3 289.8,124.3 290.4,123 290.4,121.7 290.3,120.3 290.8,119 293,119.3 290.9,118.7 291.2,117.7 291.3,116.3 292.1,115 292.3,113.5 293.3,112.3 294.1,111 294.3,109.3 292.9,108.7 292.3,107.4 290.8,107 289.3,107.4 287.7,107.4 286.3,108.4 285,108.9 283.7,109.3 282.3,109.3 281,109 279.7,109.4 278.4,109.3 276.9,107.4 276.4,105.4 278.4,104.4 277.4,102.4 275.8,102.7 274.4,103.4 273.5,104.4 271.9,103.4 273.2,104.7 272.4,105.4 270.4,106.4 268.4,107.4 266.4,106.4"/>
<polyline points="243.5,97.9 245.2,98.3 246.5,99.4 247.7,100.3 249.3,100.5 250.5,101.4 252.2,102.1 253.5,103.4 254.3,104.8 254.5,106.4 255,107.8 255.5,109.3 256.5,110.3 256.8,109 257.5,107.8 257.5,106.4 258.3,105.2 256.4,103.7 258.5,105 259.7,104.6 260.5,103.4 262,103.3 263.4,102.9 265.4,104.4 266.4,106.4"/>
<polyline points="241.5,111.3 242.3,112.6 243.8,113.1 244.5,114.3 245.9,115.5 247.5,116.3 248.5,118.3 248.8,117 248.9,115.6 245.9,114.6 248.9,115.3 249.5,114.3 250.5,112.3"/>
<polyline points="244.5,132.2 246,132.1 247.4,131.3 249.1,131.8 250.5,131.2 249.6,132.4 248.8,133.6 248.5,135.2 247.6,136.3 247,137.6 246.4,139 245.5,140.2"/>
<polygon points="293.3,126.3 293.9,124.5 295.3,123.3 296.5,121.9 298.3,121.3 299.5,121.9 301,121.2 302.2,121.8 302.9,123 303.2,124.3 302.2,125.4 301.7,126.8 301.2,128.3 300.3,129.6 299.3,130.7 298,130.4 298,128.4 297.7,130.3 296.6,130.2 295.3,130.2 293.8,128.3"/>
<polygon points="363.4,71 364.4,70.5 364.9,71.3 363.7,71.7"/>
<polyline points="368.7,68.1 369.1,68.4"/>
<polyline points="290.1,126.3 290.7,126.7"/>
<polyline points="264.4,143.2 265.7,142.5 266.4,141.2 267.7,142.5 268.4,144.2 267.1,144.8 266.8,146.5 265.4,147.2"/>
<polyline points="262.4,154.1 263.7,153.7 265.1,153.5 266.3,153.1 267.4,152.1 269.1,152.8 270.4,154.1 271.9,154.8 272.8,156.5 270.9,158.4 273,156.7 274.4,157.1"/>
<polygon points="275.9,148.6 277,149.6 278.4,149.6 277.4,151.1 276.3,150.1"/>
<polyline points="282.3,77.5 283.5,76.5 284.8,76 286.3,78 287.8,80 286.3,81"/>
<polyline points="65.2,11.6 66.6,12 68.2,9.6 66.8,12.2 67.4,13.3 69.7,12.1 71.2,12.6 72,13.8 71.4,15.1 70.3,16.1 68,15 67.8,16.4 67.4,17.8 69.1,18.6 68.7,20.2 69.4,18.6 70.8,18.4"/>
<polyline points="49.8,15.5 51.5,14.7 52.7,13.3 53,11.7 54.3,10.4 54.4,8.7"/>
<polyline points="59.5,11.6 60.3,10.4 61.8,10.1 63.1,11.5 62.1,10 62.9,9.3 63.9,8.4 65.3,8 66.3,7"/>
<polyline points="53.8,30.9 56.1,29.8 58.3,30.3 60.6,29.2 62.9,29.8 62.3,32 60,33.2 58.6,33.7 59.3,35.1 58.3,33.8 57.2,34.3 54.9,35.4 57.2,36.6 58.8,36.8 60,37.7 61.5,37.5 62.9,37.7 64.6,36"/>
<polyline points="69.7,25.2 72,26.3 73.5,25.6 74.3,24.1 74.6,22.6 75.4,21.2"/>
<polyline points="72.6,28 73.8,27 75.4,26.3 76.5,25.4 77.2,24.1 78.3,23.2 79.5,24.3 78.5,23 78.8,21.8"/>
<polyline points="73.1,29.2 73.5,30.7 74.8,31.5 76.5,32"/>
<polyline points="79.9,30.9 81.2,30.2 82.2,29.2 82.5,30.7 79.6,31.6 82.7,31 83.4,32 84.5,30.9"/>
<polyline points="81.1,38.8 83.4,37.7 84.2,36.4 85.6,36 86.8,37.7 85.6,40"/>
<polyline points="90.2,19.5 92.5,18.9 93.6,19.7 92.2,21.1 93.9,19.9 94.7,20.7 97,21.8 99.3,22.9 100.4,25.2"/>
<polyline points="90.2,30.9 91.7,30.5 92.5,29.2 93.9,30.4 94.7,32 95.9,34.3"/>
<polyline points="98.1,28 99.9,27.3 101.5,26.3 103.8,25.8 105,26.5 106.2,27.1 106.9,26.1 106.5,27.3 107.2,28 105.6,28.8 105.4,27.5 105.3,28.9 103.8,29.2 102.3,30.2 102.5,32.3 102,30.3 100.4,30.3"/>
<polyline points="44.7,47.4 47,46.8 47.3,44.8 44.6,43.8 47.4,44.6 48.7,43.4 49.6,42 47.8,41.2 49.8,41.8 50.4,40.6 51.4,39.6 52.7,38.8 54.4,40 53.4,41.6 52.7,43.4 52.3,44.8 51.3,45.8 50.4,46.8 49.7,48.4 48.1,49.1 46.9,50.3 45.3,50.8"/>
<polyline points="36.7,35.4 38.1,36.4 39,37.7 41.3,38.8 43.6,37.7 44.3,39.2 45.8,40 48.1,38.8"/>
<polygon points="203.5,150.1 204.9,149.3 206.4,148.7 207.8,148.3 208.5,150.8 208.1,148.2 209.3,148.1 209.4,149.6 209.5,148 210.7,147.6 212.5,147.7 214.2,148 213.1,149 214.4,150.5 212.9,149.2 212.1,150.1 210.2,150.6 208.5,151.6 207,151.5 207,153.3 206.8,151.6 205.6,151.9 204.4,151.2"/>
<polyline points="199.9,132.9 201,132.1 202.1,131.1 203.5,132.2 203.2,134 203.1,135.8 201.3,137.2 199.9,135.8"/>
<polyline points="219.3,174.5 220.1,173.4 218.9,172.3 220.3,173.1 220.5,172 221.4,170.9 221.4,172.6 221.9,174.2 222.1,175.9 223.3,174.5 224.3,173 224.8,174.7 224.5,176.4 225,178.1 226.4,178.3 227.8,178.1 229.3,178.8 230.7,178.4 232.1,178.1 231.9,179.7 234.4,179.6 231.9,180 231.4,181.4 231.4,183.1"/>
<polyline points="204.9,158.7 207.1,159.8 208.2,160.7 209.2,161.6 210.4,163 211.4,164.4"/>
<polyline points="504.8,3.6 505.7,5.1 506.4,6.8 506.7,8.4 507.5,9.9 508,11.5 508,12.8 508.5,14.1 508.7,15.7 508.5,17.3 508,19.4 510.1,19.9 511.3,20.5 512.7,20.4 513.9,21.3 515.3,21.5 516.6,22 517.4,23.1 519.1,24 520.6,25.2 521.5,26.2 522.7,26.7 523.7,28.3 525.4,28.5 525.2,30.3 525.7,28.4 526.9,27.8 528.4,26.9 529.6,28.4 528.7,26.7 530.1,26.2 532.2,25.2 534.3,24.6 534.5,23.1 534.3,21.5 534.6,19.9 534.3,18.3 535.8,17.8 537.4,17.8 539.5,16.8 539,14.6 540.4,13.8 541.6,12.5 542.9,12.2 544.3,12.5 545,11.3 545.3,9.9 545.3,7.8 546.6,6.9 547.9,6.2 549.3,6.4 548.7,3.5 549.6,6.3 550.6,5.7 551.9,5.9 553.2,5.7 554.3,4.9 554.8,3.6"/>
<polyline points="554.8,3.6 556.2,4.5 557.4,5.7 557.9,7 558.5,8.3 559,9.6 559.5,11 559,13.1 560.1,13.8 561.1,14.6 561.7,16.1 562.7,17.3 564.8,17.8 566.1,17.4 564.9,15.8 566.3,17.2 566.9,16.2 569,15.2 570.2,14 571.6,13.1 572.8,12.1 574.2,11.5"/>
<polyline points="508.5,15.2 509.8,15.8 511.1,16.2 512.2,17.3"/>
<polyline points="508.5,7.8 510,7.7 511.1,6.8 512.6,5.8 514.3,5.2 515.9,5.3 517.4,4.7 518.5,6.2 517.5,7.1 516.4,7.8 515.1,8.6 513.6,8.6 512.2,8.9 510.9,8.4 509.5,8.6"/>
<polygon points="519,46.7 518.7,44.6 519.9,43.5 521.8,45.3 520.1,43.2 520.6,42 522.1,41.5 521.4,39.6 522.3,41.3 523.2,40.4 524.3,38.3 525.4,37.4 526.4,36.2 526.9,34.6 528.4,33.9 529.1,35.2 528.7,33.8 530.1,33.6 531.7,33.4 533.2,32.5 534.8,32.7 536.4,32.3 538.5,33.1 536.9,34.6 535.4,35.2 534.3,36.2 533.5,37.5 532.2,38.3 532.7,40.4 534.8,40.9 536.9,40.4 537.4,41.5 535.3,42.5 533.2,43.6 531.1,44.1 529,45.2 527.4,46.7 525.3,47.3 523.7,45.7 521.6,46.7 520.1,47.3"/>
<polygon points="540.6,33.6 541.9,32.8 542.7,31.5 544,31.3 545.3,31 546.9,31 547.9,29.4 547.8,28 548.5,26.7 550,25.7 551.6,26 553.2,25.7 554.7,25 556.4,25.2 558,25.4 559.5,25.7 560,27.8 558.8,28.6 560,31.3 558.6,28.7 557.4,28.8 555.8,29.1 554.8,26.8 555.5,29.2 554.3,29.9 553.2,32 552.4,33.2 552.2,34.6 552.8,36.1 552.7,37.8 553.3,39 554.8,38.6 553.3,39.3 553.2,40.4 552.1,41.4 551.1,42.5 550.8,44.1 551.1,45.7 552.2,47.8 551.1,49.4 549.5,49.8 547.9,49.4 546.9,47.3 545.3,45.7 543.7,44.6 543.2,43.6 544.3,41.5 545.3,39.9 546.9,38.3 549,37.8 549.5,36.2 548.2,36.1 546.9,36.2 544.8,37.3 542.7,37.8 540.6,36.7 540.1,35.2"/>
<polygon points="509,38.3 509.9,37.1 511.1,36.2 512.7,36.2 513,38.3 511.1,39.9 509.3,39.4"/>
<polygon points="557.9,44.6 559.2,43.9 559.6,46.1 559.4,43.8 560.6,43.6 561.8,44.2 563.2,44.6 561.1,45.7 559.8,45.6 558.5,45.4"/>
<polyline points="534.3,43.6 535.3,45.2 534.8,47.3"/>
<polyline points="519.5,45.7 520.4,44.7 521.6,44.1 523.7,44.6 525.8,45.7 526.9,44.6"/>
</g>
<g id="bline" fill="none" stroke="#000" stroke-width="1.0" stroke-linejoin="round"><polyline points="-0.4,19.3 38,31.6 62.7,42.7 114.7,68.3 137.7,91.5 143.2,101.8 149.6,115 173.7,126.4 182.9,149.3 195.1,149.3 231.9,183.5 240.6,183.5 287.1,206.2 299.3,206.8 312,219.1 334.3,230.3 340.7,235 344.8,241 378.1,241 389.5,246.3 400,251.5 408.8,257.6 419.3,264.6 428.2,270.7 435.9,275.8 446.1,286 457.5,297.5 470.3,310.2 481.7,333.1 493.8,345.2 516.1,356.1 527.6,356.1 542.9,361.8 562.6,368.2 574.6,378.6"/></g>
</defs>
<rect width="1407" height="1256" fill="#fff"/>
<clipPath id="pcA"><rect x="0" y="0" width="574.3" height="574.7"/></clipPath>
<g transform="translate(59.4,31.4)">
<g clip-path="url(#pcA)" >
<polygon points="199.1,63.5 199.8,61.3 202.3,59.9 202.7,57.1 202,52.1 201.6,49.3 203,49.3 205.9,53.5 206.6,58.5 208.4,62.8 210.1,62.1 210.9,58.5 211.9,59.9 215.5,61 220.1,60.6 221.5,66 219,69.5 219.4,73.1 215.5,74.1 210.1,74.8 204.8,74.8 202.3,74.1 199.8,69.9 199.1,66.3" fill="#ffcfcf"/>
<polygon points="96.6,38.6 99.6,37.1 102.6,38.6 103.6,42.6 101.6,46.1 97.6,45.6 96.1,42.1" fill="#ffcfcf"/>
<polygon points="169.1,38.5 172,37.4 174.8,34.5 177.7,32.2 181.1,29.4 183.9,27.7 185,28.8 183.3,31.1 179.4,33.9 179.4,36.8 181.1,40.2 182.2,43 182.8,46.5 181.6,47.6 179.4,45.3 177.1,42.5 174.8,40.8 172,39.9" fill="#ffcfcf"/>
<polygon points="204.8,150.2 208.3,148.4 212.6,147.6 213.5,149.3 210,151.6 206.5,152.3" fill="#ffcfcf"/>
<polygon points="296.7,231.4 299.3,229.6 301,233.1 302.8,238.4 303.7,241 301,242.8 299.3,239.3 297.5,234.9" fill="#ffcfcf"/>
<line x1="144.1" y1="0" x2="144.1" y2="574.7" stroke="#000" stroke-width="1.7" stroke-dasharray="1.6 1.56"/>
<line x1="0" y1="144.1" x2="574.3" y2="144.1" stroke="#000" stroke-width="1.7" stroke-dasharray="1.6 1.56"/>
<line x1="287.6" y1="0" x2="287.6" y2="574.7" stroke="#000" stroke-width="1.7" stroke-dasharray="1.6 1.56"/>
<line x1="0" y1="287.8" x2="574.3" y2="287.8" stroke="#000" stroke-width="1.7" stroke-dasharray="1.6 1.56"/>
<line x1="431.2" y1="0" x2="431.2" y2="574.7" stroke="#000" stroke-width="1.7" stroke-dasharray="1.6 1.56"/>
<line x1="0" y1="431.5" x2="574.3" y2="431.5" stroke="#000" stroke-width="1.7" stroke-dasharray="1.6 1.56"/>
<use href="#coast" transform="scale(1.00000,1.00000)"/>
<use href="#bline" transform="scale(1.00000,1.00000)"/>
</g>
<rect x="0" y="0" width="574.3" height="574.7" fill="none" stroke="#000" stroke-width="1.6"/>
<path d="M-3.5,0H0M0,574.7v3.5M-3.5,28.7H0M28.7,574.7v3.5M-3.5,57.5H0M57.4,574.7v3.5M-3.5,86.2H0M86.1,574.7v3.5M-3.5,114.9H0M114.9,574.7v3.5M-3.5,143.7H0M143.6,574.7v3.5M-3.5,172.4H0M172.3,574.7v3.5M-3.5,201.1H0M201,574.7v3.5M-3.5,229.9H0M229.7,574.7v3.5M-3.5,258.6H0M258.4,574.7v3.5M-3.5,287.4H0M287.1,574.7v3.5M-3.5,316.1H0M315.9,574.7v3.5M-3.5,344.8H0M344.6,574.7v3.5M-3.5,373.6H0M373.3,574.7v3.5M-3.5,402.3H0M402,574.7v3.5M-3.5,431H0M430.7,574.7v3.5M-3.5,459.8H0M459.4,574.7v3.5M-3.5,488.5H0M488.2,574.7v3.5M-3.5,517.2H0M516.9,574.7v3.5M-3.5,546H0M545.6,574.7v3.5M-3.5,574.7H0M574.3,574.7v3.5" stroke="#000" stroke-width="1.1" fill="none"/>
<text x="-6.5" y="4.8" text-anchor="end" font-family="'Liberation Serif', serif" font-size="15.8" fill="#000">22°N</text>
<text x="-6.5" y="147.2" text-anchor="end" font-family="'Liberation Serif', serif" font-size="15.8" fill="#000">20.75°N</text>
<text x="-6.5" y="290.5" text-anchor="end" font-family="'Liberation Serif', serif" font-size="15.8" fill="#000">19.5°N</text>
<text x="-6.5" y="434.4" text-anchor="end" font-family="'Liberation Serif', serif" font-size="15.8" fill="#000">18.25°N</text>
<text x="-6.5" y="578.5" text-anchor="end" font-family="'Liberation Serif', serif" font-size="15.8" fill="#000">17°N</text>
<text x="0.6" y="591.7" text-anchor="middle" font-family="'Liberation Serif', serif" font-size="15.8" fill="#000">108°E</text>
<text x="144.2" y="591.7" text-anchor="middle" font-family="'Liberation Serif', serif" font-size="15.8" fill="#000">109.25°E</text>
<text x="287.8" y="591.7" text-anchor="middle" font-family="'Liberation Serif', serif" font-size="15.8" fill="#000">110.5°E</text>
<text x="431.3" y="591.7" text-anchor="middle" font-family="'Liberation Serif', serif" font-size="15.8" fill="#000">111.75°E</text>
<text x="574.9" y="591.7" text-anchor="middle" font-family="'Liberation Serif', serif" font-size="15.8" fill="#000">113°E</text>
<text x="303.4" y="-9" text-anchor="middle" font-family="'Liberation Serif', serif" font-weight="bold" font-size="22.2" fill="#000">2050</text>
<text x="11.3" y="-7.2" font-family="'Liberation Sans', sans-serif" font-weight="bold" font-size="29.8" fill="#000">A</text>
<text x="115.4" y="23.1" font-family="'Liberation Serif', serif" font-size="15.6">Guangxi</text>
<text x="299.6" y="34.2" font-family="'Liberation Serif', serif" font-size="15.5">Guangdong</text>
<text x="161.5" y="356.3" font-family="'Liberation Serif', serif" font-size="15.5">Hainan</text>
<text transform="translate(209.7,124.8) rotate(54)" font-family="'Liberation Serif', serif" font-size="10.8">Leizhou Peninsula</text>
</g>
<clipPath id="pcB"><rect x="0" y="0" width="573.4" height="574.5"/></clipPath>
<g transform="translate(708.1,31.5)">
<g clip-path="url(#pcB)" >
<polygon points="15.5,47.9 21.2,45.1 26.9,43.7 30.5,46.5 28.3,52.2 24.1,56.5 18.4,55" fill="#ffcfcf"/>
<polygon points="36.2,36.6 41.1,33.7 48.2,35.1 53.9,39.4 52.5,46.5 46.8,49.4 39.7,49.4 36.2,45.1" fill="#ffcfcf"/>
<polygon points="55.3,15.2 59.6,12.4 65.3,11 69.6,13.8 71,18.1 66.7,22.3 65.3,28 68.1,32.3 62.4,33.7 59.6,29.4 56.8,23.8 55.3,19.5" fill="#ffcfcf"/>
<polygon points="66.8,38.8 72.5,37.8 80.2,39.7 76.3,41.6 68.7,40.7" fill="#ffe4e4"/>
<polygon points="93.5,49.3 97.4,46.4 104,45.5 103.1,50.2 97.4,54.1 94.5,53.1" fill="#ffe4e4"/>
<polygon points="114.6,49.3 118.4,45.5 124.1,45.5 122.2,51.2 116.5,54.1" fill="#c7c7ff"/>
<polygon points="129.8,55 132.7,53.1 133.7,56.9 130.8,57.9" fill="#ffe4e4"/>
<polygon points="173,36.3 174.2,31.8 178.7,28.9 183.3,27.2 183.8,29.5 179.9,34 181,38.6 183.3,42 185.6,46.6 184.4,48.8 182.1,46.6 178.7,42 176.5,37.5" fill="#ffbaba"/>
<polygon points="194.8,62.7 198.6,58.8 200.5,62.7 200.5,74.1 197.7,72.2 195.2,68.4" fill="#ffe4e4"/>
<polygon points="198.6,64.6 200.5,53.1 204.4,56.9 212,60.8 223.5,60.8 221.6,66.5 219.7,72.2 225.4,76 213.9,75.1 204.4,76 200.5,73.2" fill="#ffbaba"/>
<polygon points="202.5,150.6 208.2,147.7 213,148.3 210.1,151.5 204.4,152.1" fill="#ffc5c5"/>
<polygon points="186.2,158.2 191,154.4 198.6,153.4 204.4,158.2 208.2,165.9 206.3,171.6 198.6,170.6 191,165.9 187.2,162" fill="#d7d7ff"/>
<polygon points="192.9,156.3 198.6,155.3 203.4,160.1 202.5,165.9 196.7,164.9 193.9,161.1" fill="#b7b7ff"/>
<polygon points="223.5,184 227.3,183.1 229.2,187.8 226.3,188.8" fill="#b7b7ff"/>
<polygon points="227.3,197.4 233,196.4 239.9,197.4 239.9,200.2 233,199.9" fill="#c7c7ff"/>
<polygon points="264.2,106.6 271.7,99.1 277.9,97.9 276.7,104.1 269.2,107.8" fill="#d7d7ff"/>
<polygon points="299.1,74.2 304,76.7 302.8,85.4 300.3,84.2" fill="#d7d7ff"/>
<polygon points="261.8,148.9 269.2,146.4 276.7,151.3 281.7,158.8 276.7,161.3 269.2,156.3" fill="#d7d7ff"/>
<polygon points="285.4,163.8 291.6,166.3 296.6,171.2 294.1,176.2 290.4,178.7 287.9,173.7" fill="#d7d7ff"/>
<polygon points="231.9,196.1 236.9,197.4 239.4,201.1 231.9,201.1" fill="#d7d7ff"/>
<polygon points="311.5,216 319,214.8 326.4,217.3 331.4,226 330.2,232.2 323.9,230.9 316.5,226 311.5,221" fill="#d7d7ff"/>
<polygon points="295.3,230.9 299.1,229.7 302.8,239.6 299.1,242.1 296.6,235.9" fill="#ffc5c5"/>
<line x1="143.8" y1="0" x2="143.8" y2="574.5" stroke="#000" stroke-width="1.7" stroke-dasharray="1.6 1.56"/>
<line x1="0" y1="144.1" x2="573.4" y2="144.1" stroke="#000" stroke-width="1.7" stroke-dasharray="1.6 1.56"/>
<line x1="287.2" y1="0" x2="287.2" y2="574.5" stroke="#000" stroke-width="1.7" stroke-dasharray="1.6 1.56"/>
<line x1="0" y1="287.7" x2="573.4" y2="287.7" stroke="#000" stroke-width="1.7" stroke-dasharray="1.6 1.56"/>
<line x1="430.5" y1="0" x2="430.5" y2="574.5" stroke="#000" stroke-width="1.7" stroke-dasharray="1.6 1.56"/>
<line x1="0" y1="431.3" x2="573.4" y2="431.3" stroke="#000" stroke-width="1.7" stroke-dasharray="1.6 1.56"/>
<use href="#coast" transform="scale(0.99843,0.99965)"/>
<use href="#bline" transform="scale(0.99843,0.99965)"/>
</g>
<rect x="0" y="0" width="573.4" height="574.5" fill="none" stroke="#000" stroke-width="1.6"/>
<path d="M-3.5,0H0M0,574.5v3.5M-3.5,28.7H0M28.7,574.5v3.5M-3.5,57.5H0M57.3,574.5v3.5M-3.5,86.2H0M86,574.5v3.5M-3.5,114.9H0M114.7,574.5v3.5M-3.5,143.6H0M143.3,574.5v3.5M-3.5,172.3H0M172,574.5v3.5M-3.5,201.1H0M200.7,574.5v3.5M-3.5,229.8H0M229.4,574.5v3.5M-3.5,258.5H0M258,574.5v3.5M-3.5,287.2H0M286.7,574.5v3.5M-3.5,316H0M315.4,574.5v3.5M-3.5,344.7H0M344,574.5v3.5M-3.5,373.4H0M372.7,574.5v3.5M-3.5,402.1H0M401.4,574.5v3.5M-3.5,430.9H0M430.1,574.5v3.5M-3.5,459.6H0M458.7,574.5v3.5M-3.5,488.3H0M487.4,574.5v3.5M-3.5,517H0M516.1,574.5v3.5M-3.5,545.8H0M544.7,574.5v3.5M-3.5,574.5H0M573.4,574.5v3.5" stroke="#000" stroke-width="1.1" fill="none"/>
<text x="-6.5" y="4.8" text-anchor="end" font-family="'Liberation Serif', serif" font-size="15.8" fill="#000">22°N</text>
<text x="-6.5" y="147.2" text-anchor="end" font-family="'Liberation Serif', serif" font-size="15.8" fill="#000">20.75°N</text>
<text x="-6.5" y="290.4" text-anchor="end" font-family="'Liberation Serif', serif" font-size="15.8" fill="#000">19.5°N</text>
<text x="-6.5" y="434.2" text-anchor="end" font-family="'Liberation Serif', serif" font-size="15.8" fill="#000">18.25°N</text>
<text x="-6.5" y="578.2" text-anchor="end" font-family="'Liberation Serif', serif" font-size="15.8" fill="#000">17°N</text>
<text x="0.6" y="591.5" text-anchor="middle" font-family="'Liberation Serif', serif" font-size="15.8" fill="#000">108°E</text>
<text x="143.9" y="591.5" text-anchor="middle" font-family="'Liberation Serif', serif" font-size="15.8" fill="#000">109.25°E</text>
<text x="287.3" y="591.5" text-anchor="middle" font-family="'Liberation Serif', serif" font-size="15.8" fill="#000">110.5°E</text>
<text x="430.6" y="591.5" text-anchor="middle" font-family="'Liberation Serif', serif" font-size="15.8" fill="#000">111.75°E</text>
<text x="574" y="591.5" text-anchor="middle" font-family="'Liberation Serif', serif" font-size="15.8" fill="#000">113°E</text>
<text x="303.4" y="-9" text-anchor="middle" font-family="'Liberation Serif', serif" font-weight="bold" font-size="22.2" fill="#000">2100</text>
<text x="11.3" y="-7.2" font-family="'Liberation Sans', sans-serif" font-weight="bold" font-size="29.8" fill="#000">B</text>
</g>
<clipPath id="pcC"><rect x="0" y="0" width="574.6" height="573.9"/></clipPath>
<g transform="translate(59.2,664)">
<g clip-path="url(#pcC)" >
<polygon points="36.1,59.2 39.9,57.3 45.7,59.2 51.4,65 57.1,63.1 64.8,61.2 74.3,59.2 80.1,57.3 83.9,55.4 89.6,57.3 93.4,65 97.3,76.4 100.1,89.8 95.3,99.4 89.6,104.1 82,104.1 72.4,99.4 68.6,95.5 68.6,101.3 62.9,99.4 59,91.7 57.1,80.3 55.2,72.6 49.5,66.9 43.8,65 38,63.1" fill="#d7d7ff"/>
<polygon points="82,45.9 89.6,44 95.3,45.9 93.4,51.6 87.7,53.5 83.9,49.7" fill="#d7d7ff"/>
<polygon points="112.5,47.8 120.2,44 129.7,45.9 133.6,51.6 131.7,57.3 125.9,61.2 120.2,65 114.5,63.1 112.5,57.3" fill="#c7c7ff"/>
<polygon points="116.4,46.8 124,45.9 129.7,49.7 127.8,55.4 122.1,57.3" fill="#a7a7ff"/>
<polygon points="133.6,68.8 143.1,65 152.7,64 162.2,63.1 171.8,65 181.3,70.7 189,76.4 192.8,89.8 192.8,99.4 190.9,107 190.9,118.5 190.9,126.1 183.3,127.1 173.7,126.1 169.9,129.9 168,133.8 162.2,136.6 156.5,133.8 150.8,128 146.9,120.4 145,112.7 143.1,107 139.3,99.4 137.4,91.7 135.5,82.2 134.5,76.4" fill="#d7d7ff"/>
<polygon points="147.9,95.5 153.6,92.7 156.5,101.3 152.7,107 149.8,101.3" fill="#ffffff"/>
<polygon points="189,103.2 192.8,101.3 192.8,118.5 189.9,119.4" fill="#c7c7ff"/>
<polygon points="137.4,127.1 145,126.1 148.9,128 143.1,129.9" fill="#d7d7ff"/>
<polygon points="187.1,142.4 190.9,137.6 196.6,133.8 200.4,135.7 202.4,143.3 194.7,145.2" fill="#d7d7ff"/>
<polygon points="169.9,166.3 175.6,160.5 177.5,152.9 183.3,150 190.9,149.1 200.4,152.9 210,162.4 219.6,172 225.3,179.6 217.6,181.5 210,179.6 202.4,179.6 194.7,183.5 190.9,189.2 183.3,189.2 179.4,183.5 175.6,177.7 171.8,173.9" fill="#d7d7ff"/>
<polygon points="179.4,156.7 187.1,152.9 196.6,152.9 206.2,160.5 215.7,172 210,177.7 200.4,177.7 190.9,173.9 183.3,168.2 179.4,162.4" fill="#c7c7ff"/>
<polygon points="183.3,154.8 192.8,152.9 202.4,158.6 211.9,170.1 206.2,173.9 196.6,170.1 189,164.3 185.2,159.6" fill="#a7a7ff"/>
<polygon points="190.9,154.8 198.5,153.8 206.2,162.4 210,168.2 204.3,169.1 196.6,164.3 192.8,160.5" fill="#8787ff"/>
<polygon points="197.6,154.8 201.4,155.7 204.3,161.5 200.4,162.4 198.5,158.6" fill="#2020ff"/>
<polygon points="215.7,187.3 221.5,191.1 225.3,194.9 232.9,195.9 239.8,196.8 239.8,199.7 231,198.7 223.4,198.7 217.6,193" fill="#b7b7ff"/>
<polygon points="150.8,240 152.7,231.2 158.4,229.3 157.5,240" fill="#d7d7ff"/>
<polygon points="202.4,151 208.1,148.1 213.8,148.7 210,151.9 204.3,152.5" fill="#ffc5c5"/>
<polygon points="-0.2,53.5 5.5,54.5 11.3,56.4 5.5,58.3 -0.2,58.3" fill="#ffdada"/>
<polygon points="15.4,48.3 21.1,45.5 26.8,44.1 30.4,46.9 28.2,52.6 24,56.9 18.3,55.4" fill="#ffafaf"/>
<polygon points="36.1,37 41,34.1 48.1,35.5 53.8,39.8 52.4,46.9 46.7,49.8 39.6,49.8 36.1,45.5" fill="#ffafaf"/>
<polygon points="60.9,28.4 70.9,31.3 79.4,37 83.7,42.7 79.4,45.5 70.9,44.1 63.8,39.8 59.5,35.5" fill="#ffdada"/>
<polygon points="60.9,28.7 68.6,30.6 74.3,35.4 70.5,38.2 64.8,36.3 60.6,33.4" fill="#ffc5c5"/>
<polygon points="55.2,15.6 59.5,12.8 65.2,11.4 69.5,14.2 70.9,18.5 66.6,22.7 65.2,28.4 68,32.7 62.3,34.1 59.5,29.8 56.7,24.2 55.2,19.9" fill="#ff4545"/>
<polygon points="172.9,36.7 174.1,32.2 178.6,29.3 183.2,27.6 183.7,29.9 179.8,34.4 180.9,39 183.2,42.4 185.5,47 184.3,49.2 182,47 178.6,42.4 176.4,37.9" fill="#ff4545"/>
<polygon points="192.8,65 196.6,61.2 200.4,63.1 201.4,74.5 196.6,72.6" fill="#ffc5c5"/>
<polygon points="198.5,63.1 201.4,51.6 205.2,57.3 212.9,61.2 225.3,61.2 222.4,66.9 219.6,72.6 226.2,76.4 213.8,75.5 205.2,75.5 200.4,73.6" fill="#ff4545"/>
<polygon points="301.7,82.1 312.9,74.6 325.3,69.7 337.8,65.9 350.2,62.2 360.2,60.9 370.1,59.7 380.1,58.5 390,56 395,58.5 387.5,62.2 382.5,67.2 380.1,74.6 372.6,79.6 365.1,84.6 355.2,94.5 347.7,104.5 340.3,114.4 332.8,126.9 330.3,139.3 332.8,149.3 337.8,159.2 345.2,169.2 347.7,179.1 340.3,186.6 342.7,194 352.7,199 357.7,206.5 355.2,218.9 365.1,226.4 375.1,231.3 370.1,235.1 355.2,235.1 342.7,235.1 335.3,228.9 320.4,221.4 310.4,211.4 307.9,204 305.4,196.5 300.5,189.1 293,184.1 290.5,176.6 288,169.2 280.6,161.7 273.1,154.2 268.1,149.3 263.1,144.3 255.7,139.3 250.7,134.3 248.2,124.4 249.5,116.9 255.7,111.9 263.1,107 270.6,102 275.6,99.5 283,94.5 288,89.6 295.5,84.6" fill="#d7d7ff"/>
<polygon points="330.3,102 337.8,92 350.2,87.1 362.6,84.6 370.1,84.6 360.2,92 352.7,99.5 342.7,104.5 332.8,104.5" fill="#ffffff"/>
<polygon points="290.5,87.1 302.9,79.6 312.9,74.6 315.4,82.1 305.4,99.5 300.5,114.4 298,129.4 295.5,139.3 300.5,154.2 307.9,169.2 312.9,184.1 310.4,194 305.4,196.5 300.5,189.1 293,184.1 290.5,174.1 288,164.2 285.5,154.2 288,139.3 290.5,124.4 291.7,109.5 290.5,97" fill="#c7c7ff"/>
<polygon points="288,149.3 295.5,154.2 302.9,169.2 305.4,179.1 300.5,184.1 293,179.1 289.3,169.2" fill="#b7b7ff"/>
<polygon points="310.4,199 322.8,196.5 335.3,204 342.7,213.9 347.7,223.9 340.3,231.3 330.3,226.4 317.9,218.9 310.4,211.4" fill="#c7c7ff"/>
<polygon points="312.9,211.4 322.8,213.9 332.8,221.4 335.3,228.9 325.3,226.4 315.4,218.9" fill="#a7a7ff"/>
<polygon points="250.7,119.4 260.7,109.5 273.1,102 285.5,97 290.5,104.5 289.3,124.4 288,144.3 286.8,159.2 280.6,159.2 273.1,153 265.6,146.8 258.2,141.8 251.9,134.3" fill="#c7c7ff"/>
<polygon points="263.1,144.3 275.6,146.8 286.8,151.7 286.8,161.7 280.6,160.4 270.6,154.2" fill="#b7b7ff"/>
<polygon points="390,56 404.9,52.2 419.9,49.8 429.8,42.3 442.2,34.8 452.2,29.9 457.2,32.3 454.7,39.8 447.2,44.8 437.3,49.8 424.8,54.7 412.4,58.5 402.4,59.7 395,60.9" fill="#d7d7ff"/>
<polygon points="506.9,22.4 516.9,23.6 529.3,26.1 539.3,17.4 546.7,10 554.2,6.2 555.4,13.7 549.2,19.9 541.7,27.4 534.3,32.3 526.8,31.1 516.9,27.4 509.4,26.1" fill="#d7d7ff"/>
<polygon points="263.1,221.4 273.1,218.9 285.5,216.4 295.5,215.2 302.9,216.4 300.5,223.9 290.5,225.1 280.6,225.1 270.6,225.1" fill="#c7c7ff"/>
<polygon points="230.8,196.5 238.3,196.5 243.2,199 235.8,200.2 230.8,200.2" fill="#d7d7ff"/>
<polygon points="294.2,231.3 298,228.9 302.9,240 299.2,241.3 296,236.3" fill="#ffc5c5"/>
<polygon points="248.3,116.8 250.8,114.9 252.7,111.9 253.2,108.4 254.2,105.9 257.2,104.9 260.7,103.9 264.2,103.4 267.2,103.9 271.6,100.9 275.1,98.4 278.1,97.4 280.1,96.9 280.6,100.9 278.6,102.4 275.6,101.9 271.6,103.4 268.7,105.9 266.7,108.9 264.2,112.4 261.7,114.9 259.7,117.8 255.7,119.8 252.2,120.3 249.8,121.8 248.3,120.8" fill="#c7c7ff"/>
<polygon points="252.2,120.3 255.7,119.8 259.2,119.3 263.2,118.3 268.7,116.3 273.1,115.6 277.1,115.9 283.1,115.9 285.6,117.8 287.6,120.8 288.6,123.8 291,124.3 291.5,120.8 292.5,115.9 293.5,110.9 294,108.9 290.6,106.9 287.6,107.9 284.6,109.4 280.6,109.4 278.1,108.4 277.1,105.9 274.6,105.4 271.6,106.4 268.7,108.4 266.7,110.4 264.7,112.4 262.2,114.4 260.7,116.4 259.2,118.8" fill="#ffffff"/>
<polygon points="280.6,93.5 284.1,91.5 288.1,91 293,91.5 298,91 303,90.5 300.5,96 298,100.9 295.5,103.9 292,105.4 290.6,102.4 290.1,98.4 288.6,97.9 284.6,97.4 281.6,96" fill="#ffffff"/>
<polygon points="267.2,104.9 270.7,102.4 274.6,101.9 278.6,102.9 278.1,104.9 275.6,105.9 271.6,106.4 268.7,106.9" fill="#a7a7ff"/>
<polygon points="275.6,86 278.1,86 282.1,88.5 280.6,92.5 279.6,97.4 278.1,97.4 278.6,93.5 277.6,90" fill="#a7a7ff"/>
<polygon points="293.3,126.3 295.3,123.3 298.3,121.3 302.2,121.8 303.2,124.3 301.2,128.2 299.3,130.7 295.3,130.2 293.8,128.2" fill="#ffffff"/>
<polygon points="168.8,244.6 172.6,238.2 176.5,234.4 177.8,238.2 179,244.6 176.5,247.2 171.4,248.4" fill="#c7c7ff"/>
<polygon points="139.4,258.7 144.5,254.8 148.3,252.3 150.9,254.8 148.3,257.4 150.9,263.8 147.1,261.2 142,261.2" fill="#b7b7ff"/>
<line x1="144.2" y1="0" x2="144.2" y2="573.9" stroke="#000" stroke-width="1.7" stroke-dasharray="1.6 1.56"/>
<line x1="0" y1="143.9" x2="574.6" y2="143.9" stroke="#000" stroke-width="1.7" stroke-dasharray="1.6 1.56"/>
<line x1="287.8" y1="0" x2="287.8" y2="573.9" stroke="#000" stroke-width="1.7" stroke-dasharray="1.6 1.56"/>
<line x1="0" y1="287.4" x2="574.6" y2="287.4" stroke="#000" stroke-width="1.7" stroke-dasharray="1.6 1.56"/>
<line x1="431.5" y1="0" x2="431.5" y2="573.9" stroke="#000" stroke-width="1.7" stroke-dasharray="1.6 1.56"/>
<line x1="0" y1="430.9" x2="574.6" y2="430.9" stroke="#000" stroke-width="1.7" stroke-dasharray="1.6 1.56"/>
<use href="#coast" transform="scale(1.00052,0.99861)"/>
<use href="#bline" transform="scale(1.00052,0.99861)"/>
</g>
<rect x="0" y="0" width="574.6" height="573.9" fill="none" stroke="#000" stroke-width="1.6"/>
<path d="M-3.5,0H0M0,573.9v3.5M-3.5,28.7H0M28.7,573.9v3.5M-3.5,57.4H0M57.5,573.9v3.5M-3.5,86.1H0M86.2,573.9v3.5M-3.5,114.8H0M114.9,573.9v3.5M-3.5,143.5H0M143.7,573.9v3.5M-3.5,172.2H0M172.4,573.9v3.5M-3.5,200.9H0M201.1,573.9v3.5M-3.5,229.6H0M229.8,573.9v3.5M-3.5,258.3H0M258.6,573.9v3.5M-3.5,286.9H0M287.3,573.9v3.5M-3.5,315.6H0M316,573.9v3.5M-3.5,344.3H0M344.8,573.9v3.5M-3.5,373H0M373.5,573.9v3.5M-3.5,401.7H0M402.2,573.9v3.5M-3.5,430.4H0M430.9,573.9v3.5M-3.5,459.1H0M459.7,573.9v3.5M-3.5,487.8H0M488.4,573.9v3.5M-3.5,516.5H0M517.1,573.9v3.5M-3.5,545.2H0M545.9,573.9v3.5M-3.5,573.9H0M574.6,573.9v3.5" stroke="#000" stroke-width="1.1" fill="none"/>
<text x="-6.5" y="4.8" text-anchor="end" font-family="'Liberation Serif', serif" font-size="15.8" fill="#000">22°N</text>
<text x="-6.5" y="147" text-anchor="end" font-family="'Liberation Serif', serif" font-size="15.8" fill="#000">20.75°N</text>
<text x="-6.5" y="290.1" text-anchor="end" font-family="'Liberation Serif', serif" font-size="15.8" fill="#000">19.5°N</text>
<text x="-6.5" y="433.8" text-anchor="end" font-family="'Liberation Serif', serif" font-size="15.8" fill="#000">18.25°N</text>
<text x="-6.5" y="577.6" text-anchor="end" font-family="'Liberation Serif', serif" font-size="15.8" fill="#000">17°N</text>
<text x="0.6" y="590.9" text-anchor="middle" font-family="'Liberation Serif', serif" font-size="15.8" fill="#000">108°E</text>
<text x="144.2" y="590.9" text-anchor="middle" font-family="'Liberation Serif', serif" font-size="15.8" fill="#000">109.25°E</text>
<text x="287.9" y="590.9" text-anchor="middle" font-family="'Liberation Serif', serif" font-size="15.8" fill="#000">110.5°E</text>
<text x="431.6" y="590.9" text-anchor="middle" font-family="'Liberation Serif', serif" font-size="15.8" fill="#000">111.75°E</text>
<text x="575.2" y="590.9" text-anchor="middle" font-family="'Liberation Serif', serif" font-size="15.8" fill="#000">113°E</text>
<text x="303.4" y="-9" text-anchor="middle" font-family="'Liberation Serif', serif" font-weight="bold" font-size="22.2" fill="#000">2200</text>
<text x="11.3" y="-7.2" font-family="'Liberation Sans', sans-serif" font-weight="bold" font-size="29.8" fill="#000">C</text>
</g>
<clipPath id="pcD"><rect x="0" y="0" width="573.4" height="574"/></clipPath>
<g transform="translate(708.1,664)">
<g clip-path="url(#pcD)" >
<polygon points="8.4,91 11.3,79.6 14.1,68.2 18.4,59.7 25.5,56.9 32.6,55.4 42.6,52.6 46.8,51.2 53.9,49.8 56.8,54 61,56.9 68.1,58.3 73.8,55.4 79.5,49.8 85.2,46.9 88,45.5 96.6,42.7 99.4,39.8 102.3,41.2 105.1,45.5 113.6,44 120.7,42.7 132.1,46.9 133.5,54 127.8,59.7 122.1,62.5 123.6,65.4 133.5,68.2 142.1,65.4 147.8,64 156.3,62.5 163.4,62.5 170.5,62.5 179,65.4 184.7,71.1 189,79.6 191.8,88.1 192.9,91.7 192,103.2 191,118.5 191,129.9 194.8,133.8 197.7,141.4 191,145.2 183.4,150 175.7,151 168.1,152.9 160,162 142.1,167.7 137.5,159.7 139.8,149.5 147.8,147.2 154.6,139.8 139.8,139.2 134.1,141.5 123.9,139.2 126.2,126.7 129.6,123.3 132.4,120.5 119.4,115.9 106.8,113.1 100,117.6 98.9,126.7 97.7,133.6 89.8,139.2 90.9,148.3 89.8,154 80.7,159.7 73.9,152.9 67,142.7 56.8,131.3 42.6,124.4 39.7,136.4 48.8,143.8 57.9,148.9 68.2,152.9 75,162.5 68.2,164.3 48.8,165.4 43.1,154 36.3,150.6 28.3,135.3 34,133.6 40.9,122.7 30.6,116.5 22.7,115.9 21.5,107.4 13.5,96" fill="#d7d7ff"/>
<polygon points="-0.1,103.2 3.7,103.2 6.8,107 4.7,108.5 -0.1,107" fill="#d7d7ff"/>
<polygon points="59.6,61.1 73.8,59.7 85.2,62.5 90.9,71.1 99.4,79.6 102.3,91 92.3,91 83.8,88.1 79.5,79.6 71,73.9 62.4,66.8" fill="#c7c7ff"/>
<polygon points="34,58.3 42.6,56.9 49.7,59.7 56.8,64 53.9,66.8 45.4,65.4 36.9,62.5" fill="#c7c7ff"/>
<polygon points="79.5,71.1 88,73.9 93.7,82.5 93.7,89.6 85.2,88.1 80.9,79.6" fill="#b7b7ff"/>
<polygon points="88,54 96.6,52.6 105.1,59.7 107.9,68.2 103.7,71.1 98,68.2 92.3,61.1" fill="#ffffff"/>
<polygon points="107.9,46.9 120.7,42.7 132.1,46.9 133.5,54 127.8,59.7 120.7,62.5 113.6,56.9" fill="#c7c7ff"/>
<polygon points="116.5,45.9 126,44.9 132.7,48.7 132.7,54.5 127,57.3 120.3,55.4" fill="#a7a7ff"/>
<polygon points="85.1,44 91.6,41.7 99.3,40.5 98.3,45.9 91.6,47.8 85.9,48.2" fill="#b7b7ff"/>
<polygon points="145.1,65 160.4,61.5 171.9,62.1 181.4,72.6 188.1,82.2 192,91.7 191,107 191,122.3 192.9,133.8 183.4,133.8 171.9,126.1 164.2,122.3 156.6,118.5 152.8,110.8 149,99.4 147,86 145.1,76.4" fill="#c7c7ff"/>
<polygon points="183.4,105.1 191,103.2 191,118.5 187.2,118.5 184.3,112.7" fill="#b7b7ff"/>
<polygon points="299.1,77.1 316.5,69.7 331.4,67.2 343.8,62.2 356.3,59.7 371.2,59.7 381.2,57.2 393.6,53.5 406,52.2 421,48.5 430.9,44.8 443.3,37.3 455.8,29.9 468.2,27.4 480.7,23.6 493.1,19.9 505.5,21.1 518,27.4 530.4,23.6 542.8,14.9 555.3,7.5 570.2,10 572.7,14.9 555.3,22.4 542.8,27.4 530.4,32.3 518,37.3 513,42.3 514.2,51 503,52.2 490.6,54.7 478.2,57.2 470.7,59.7 463.2,59.7 455.8,63.4 448.3,69.7 438.4,74.6 434.6,87.1 430.9,99.5 428.4,116.9 421,120.6 406,121.9 396.1,121.9 406,129.4 413.5,136.8 418.5,149.3 418.5,159.2 411,164.2 403.5,171.6 403.5,184.1 403.5,199 403.5,206.5 391.1,206.5 383.6,213.9 378.7,223.9 376.2,231.3 371.2,236.3 358.8,237.6 346.3,238.8 341.4,238.8 336.4,231.3 331.4,226.4 321.5,221.4 311.5,216.4 306.5,209 304,199 299.1,191.5 294.1,189.1 289.1,184.1 287.9,174.1 289.1,164.2 285.4,154.2 274.2,149.3 266.7,146.8 264.2,141.8 256.8,139.3 249.3,134.3 246.8,124.4 250.6,116.9 256.8,109.5 266.7,104.5 276.7,99.5 281.7,94.5 289.1,89.6 294.1,84.6" fill="#d7d7ff"/>
<polygon points="299.1,77.1 331.4,67.2 343.8,64.7 356.3,74.6 343.8,87.1 336.4,99.5 331.4,111.9 328.9,124.4 326.4,139.3 331.4,149.3 341.4,161.7 346.3,174.1 343.8,189.1 351.3,199 356.3,211.4 361.3,223.9 366.2,233.8 346.3,237.6 338.9,231.3 321.5,221.4 306.5,209 301.6,194 291.6,184.1 289.1,169.2 289.1,154.2 286.6,139.3 289.1,124.4 291.6,111.9 294.1,99.5 296.6,87.1" fill="#c7c7ff"/>
<polygon points="291.6,82.1 306.5,74.6 314,74.6 306.5,94.5 301.6,111.9 299.1,129.4 301.6,149.3 309,164.2 314,179.1 316.5,191.5 326.4,199 336.4,206.5 341.4,218.9 338.9,228.9 326.4,223.9 311.5,213.9 304,199 296.6,186.6 290.4,174.1 287.9,154.2 289.1,129.4 291.6,104.5" fill="#b7b7ff"/>
<polygon points="287.9,144.3 294.1,149.3 299.1,161.7 304,174.1 301.6,184.1 294.1,179.1 289.6,169.2" fill="#a7a7ff"/>
<polygon points="311.5,209 323.9,210.2 333.9,218.9 336.4,227.6 326.4,225.1 315.2,216.4" fill="#a7a7ff"/>
<polygon points="306.5,211.4 316.5,211.4 328.9,216.4 336.4,223.9 333.9,230.1 323.9,227.6 314,221.4 309,216.4" fill="#8787ff"/>
<polygon points="246.8,119.4 256.8,109.5 269.2,102 281.7,97 291.6,94.5 291.6,111.9 289.1,129.4 287.9,149.3 285.4,154.2 274.2,149.3 266.7,146.8 261.8,141.8 254.3,138.1 248.1,131.8" fill="#c7c7ff"/>
<polygon points="261.8,144.3 271.7,141.8 281.7,139.3 287.9,144.3 287.9,159.2 279.2,154.2 269.2,149.3" fill="#a7a7ff"/>
<polygon points="465.7,41 480.7,39.8 493.1,41 490.6,49.8 478.2,57.2 470.7,59.7 465.7,49.8" fill="#ffffff"/>
<polygon points="256.8,218.9 271.7,216.4 286.6,211.4 296.6,209 304,213.9 301.6,223.9 291.6,226.4 281.7,225.1 269.2,223.9 259.3,225.1" fill="#c7c7ff"/>
<polygon points="276.7,218.9 286.6,216.4 294.1,213.9 296.6,221.4 289.1,223.9 279.2,223.9" fill="#a7a7ff"/>
<polygon points="137.4,158.2 150.4,147.1 168.9,143.4 176.3,145.2 187.4,141.5 196.6,143.4 200.3,150.8 213.2,167.4 218.8,174.8 215.1,184.1 209.5,189.6 202.1,191.5 192.9,191.5 183.7,193.3 176.3,191.5 168.9,187.8 163.3,176.7 161.5,165.6 154.1,161.9 143,163.7 139.3,161.9" fill="#d7d7ff"/>
<polygon points="163.3,161.9 174.4,154.5 183.7,150.8 192.9,150.8 200.3,154.5 209.5,165.6 216.9,178.5 213.2,184.1 205.8,187.8 192.9,187.8 183.7,189.6 174.4,187.8 168.9,178.5 165.2,171.1" fill="#c7c7ff"/>
<polygon points="176.3,158.2 185.5,152.6 194.7,152.6 204,158.2 213.2,169.3 216.9,178.5 209.5,182.2 200.3,180.4 191,176.7 183.7,171.1 178.1,165.6" fill="#b7b7ff"/>
<polygon points="181.8,156.3 191,153.6 198.4,154.5 207.7,161.9 215.1,173 213.2,178.5 204,176.7 194.7,171.1 187.4,165.6 183.7,160" fill="#9797ff"/>
<polygon points="187.4,156.3 194.7,153.6 200.3,155.4 207.7,163.7 211.4,171.1 204,171.1 196.6,165.6 191,160" fill="#7878ff"/>
<polygon points="193.8,154.5 198.4,153.6 202.1,157.3 205.8,163.7 201.2,163.7 196.6,159.1" fill="#2020ff"/>
<polygon points="146.7,193.3 155.9,198.8 163.3,206.2 167,211.8 159.6,211.8 152.2,204.4 147.6,197" fill="#d7d7ff"/>
<polygon points="135.8,221.6 145.4,220.5 158.2,222.7 160.3,218.4 168.9,224.8 176.3,229 178.5,217.3 183.8,206.7 192.3,196 203.9,189 214.9,187 203,196 196.6,206.7 194.5,217.3 194.5,225.9 196.6,229 188.1,228 179.5,228 175.3,233.3 176.3,240.8 173.1,246.1 166.7,246.1 160.3,241.8 151.8,239.7 143.3,238.6 139,235.4 136.9,230.1" fill="#d7d7ff"/>
<polygon points="139,260 143.3,254.6 147.6,252.5 149.7,256.8 148.6,262.1 149.7,264.2 145.4,262.1 141.2,261" fill="#b7b7ff"/>
<polygon points="165.2,237.7 172.6,235.8 176.3,239.5 174.4,245.1 168.9,246.9 165.2,243.2" fill="#c7c7ff"/>
<polygon points="242.8,222.9 257.6,221 268.7,217.3 279.8,215.5 287.2,217.3 292.7,219.2 294.6,224.7 287.2,226.6 279.8,222.9 268.7,223.8 261.3,224.7 252,222.9" fill="#d7d7ff"/>
<polygon points="261.3,220.1 272.4,217.3 283.5,216.4 290.9,219.2 290.9,224.7 283.5,223.8 272.4,222.9" fill="#b7b7ff"/>
<polygon points="-0.1,53.5 5.6,54.5 11.4,56.4 5.6,58.3 -0.1,58.3" fill="#ffdada"/>
<polygon points="15.5,48.3 21.2,45.5 26.9,44.1 30.5,46.9 28.3,52.6 24.1,56.9 18.4,55.4" fill="#ffafaf"/>
<polygon points="36.2,37 41.1,34.1 48.2,35.5 53.9,39.8 52.5,46.9 46.8,49.8 39.7,49.8 36.2,45.5" fill="#ffafaf"/>
<polygon points="61,28.4 71,31.3 79.5,37 83.8,42.7 79.5,45.5 71,44.1 63.9,39.8 59.6,35.5" fill="#ffdada"/>
<polygon points="61,28.7 68.7,30.6 74.4,35.4 70.6,38.2 64.9,36.3 60.7,33.4" fill="#ffbaba"/>
<polygon points="55.3,15.6 59.6,12.8 65.3,11.4 69.6,14.2 71,18.5 66.7,22.7 65.3,28.4 68.1,32.7 62.4,34.1 59.6,29.8 56.8,24.2 55.3,19.9" fill="#ff0808"/>
<polygon points="173,36.7 174.2,32.2 178.7,29.3 183.3,27.6 183.8,29.9 179.9,34.4 181,39 183.3,42.4 185.6,47 184.4,49.2 182.1,47 178.7,42.4 176.5,37.9" fill="#ff2a2a"/>
<polygon points="189.1,61.2 194.8,57.3 199.6,55.4 200.5,74.5 196.7,73.6 191,68.8" fill="#ffcfcf"/>
<polygon points="198.6,63.1 201.5,51.6 205.3,57.3 213,61.2 225.4,61.2 222.5,66.9 219.7,72.6 226.3,76.4 213.9,75.5 205.3,75.5 200.5,73.6" fill="#ff2a2a"/>
<polygon points="202.5,151 208.2,148.1 213.9,148.7 210.1,151.9 204.4,152.5" fill="#ffc5c5"/>
<polygon points="295.3,231.3 299.1,230.1 302.8,240 299.1,242.5 296.6,236.3" fill="#ffc5c5"/>
<polygon points="248.3,116.8 250.8,114.9 252.7,111.9 253.2,108.4 254.2,105.9 257.2,104.9 260.7,103.9 264.2,103.4 267.2,103.9 271.6,100.9 275.1,98.4 278.1,97.4 280.1,96.9 280.6,100.9 278.6,102.4 275.6,101.9 271.6,103.4 268.7,105.9 266.7,108.9 264.2,112.4 261.7,114.9 259.7,117.8 255.7,119.8 252.2,120.3 249.8,121.8 248.3,120.8" fill="#b7b7ff"/>
<polygon points="252.2,120.3 255.7,119.8 259.2,119.3 263.2,118.3 268.7,116.3 273.1,115.6 277.1,115.9 283.1,115.9 285.6,117.8 287.6,120.8 288.6,123.8 291,124.3 291.5,120.8 292.5,115.9 293.5,110.9 294,108.9 290.6,106.9 287.6,107.9 284.6,109.4 280.6,109.4 278.1,108.4 277.1,105.9 274.6,105.4 271.6,106.4 268.7,108.4 266.7,110.4 264.7,112.4 262.2,114.4 260.7,116.4 259.2,118.8" fill="#ffffff"/>
<polygon points="280.6,93.5 284.1,91.5 288.1,91 293,91.5 298,91 303,90.5 300.5,96 298,100.9 295.5,103.9 292,105.4 290.6,102.4 290.1,98.4 288.6,97.9 284.6,97.4 281.6,96" fill="#ffffff"/>
<polygon points="267.2,104.9 270.7,102.4 274.6,101.9 278.6,102.9 278.1,104.9 275.6,105.9 271.6,106.4 268.7,106.9" fill="#a7a7ff"/>
<polygon points="275.6,86 278.1,86 282.1,88.5 280.6,92.5 279.6,97.4 278.1,97.4 278.6,93.5 277.6,90" fill="#a7a7ff"/>
<polygon points="293.3,126.3 295.3,123.3 298.3,121.3 302.2,121.8 303.2,124.3 301.2,128.2 299.3,130.7 295.3,130.2 293.8,128.2" fill="#ffffff"/>
<polygon points="528.3,27 534,18.5 541.1,11.4 549.6,7.1 555.3,5.7 558.2,11.4 552.5,19.9 545.4,27 538.2,31.3 531.2,29.9" fill="#c7c7ff"/>
<polygon points="418.9,27 428.8,25.6 441.6,27 443,34.1 438.8,39.8 431.7,42.6 428.8,35.5 423.1,29.9" fill="#d7d7ff"/>
<line x1="143.8" y1="0" x2="143.8" y2="574" stroke="#000" stroke-width="1.7" stroke-dasharray="1.6 1.56"/>
<line x1="0" y1="143.9" x2="573.4" y2="143.9" stroke="#000" stroke-width="1.7" stroke-dasharray="1.6 1.56"/>
<line x1="287.2" y1="0" x2="287.2" y2="574" stroke="#000" stroke-width="1.7" stroke-dasharray="1.6 1.56"/>
<line x1="0" y1="287.4" x2="573.4" y2="287.4" stroke="#000" stroke-width="1.7" stroke-dasharray="1.6 1.56"/>
<line x1="430.5" y1="0" x2="430.5" y2="574" stroke="#000" stroke-width="1.7" stroke-dasharray="1.6 1.56"/>
<line x1="0" y1="430.9" x2="573.4" y2="430.9" stroke="#000" stroke-width="1.7" stroke-dasharray="1.6 1.56"/>
<use href="#coast" transform="scale(0.99843,0.99878)"/>
<use href="#bline" transform="scale(0.99843,0.99878)"/>
</g>
<rect x="0" y="0" width="573.4" height="574" fill="none" stroke="#000" stroke-width="1.6"/>
<path d="M-3.5,0H0M0,574v3.5M-3.5,28.7H0M28.7,574v3.5M-3.5,57.4H0M57.3,574v3.5M-3.5,86.1H0M86,574v3.5M-3.5,114.8H0M114.7,574v3.5M-3.5,143.5H0M143.3,574v3.5M-3.5,172.2H0M172,574v3.5M-3.5,200.9H0M200.7,574v3.5M-3.5,229.6H0M229.4,574v3.5M-3.5,258.3H0M258,574v3.5M-3.5,287H0M286.7,574v3.5M-3.5,315.7H0M315.4,574v3.5M-3.5,344.4H0M344,574v3.5M-3.5,373.1H0M372.7,574v3.5M-3.5,401.8H0M401.4,574v3.5M-3.5,430.5H0M430.1,574v3.5M-3.5,459.2H0M458.7,574v3.5M-3.5,487.9H0M487.4,574v3.5M-3.5,516.6H0M516.1,574v3.5M-3.5,545.3H0M544.7,574v3.5M-3.5,574H0M573.4,574v3.5" stroke="#000" stroke-width="1.1" fill="none"/>
<text x="-6.5" y="4.8" text-anchor="end" font-family="'Liberation Serif', serif" font-size="15.8" fill="#000">22°N</text>
<text x="-6.5" y="147.1" text-anchor="end" font-family="'Liberation Serif', serif" font-size="15.8" fill="#000">20.75°N</text>
<text x="-6.5" y="290.1" text-anchor="end" font-family="'Liberation Serif', serif" font-size="15.8" fill="#000">19.5°N</text>
<text x="-6.5" y="433.9" text-anchor="end" font-family="'Liberation Serif', serif" font-size="15.8" fill="#000">18.25°N</text>
<text x="-6.5" y="577.8" text-anchor="end" font-family="'Liberation Serif', serif" font-size="15.8" fill="#000">17°N</text>
<text x="0.6" y="591" text-anchor="middle" font-family="'Liberation Serif', serif" font-size="15.8" fill="#000">108°E</text>
<text x="143.9" y="591" text-anchor="middle" font-family="'Liberation Serif', serif" font-size="15.8" fill="#000">109.25°E</text>
<text x="287.3" y="591" text-anchor="middle" font-family="'Liberation Serif', serif" font-size="15.8" fill="#000">110.5°E</text>
<text x="430.6" y="591" text-anchor="middle" font-family="'Liberation Serif', serif" font-size="15.8" fill="#000">111.75°E</text>
<text x="574" y="591" text-anchor="middle" font-family="'Liberation Serif', serif" font-size="15.8" fill="#000">113°E</text>
<text x="303.4" y="-9" text-anchor="middle" font-family="'Liberation Serif', serif" font-weight="bold" font-size="22.2" fill="#000">2300</text>
<text x="11.3" y="-7.2" font-family="'Liberation Sans', sans-serif" font-weight="bold" font-size="29.8" fill="#000">D</text>
</g>
<rect x="1321.6" y="319.1" width="23.7" height="16.3" fill="#ff0505"/>
<rect x="1321.6" y="335.1" width="23.7" height="16.3" fill="#ff1010"/>
<rect x="1321.6" y="351.1" width="23.7" height="16.3" fill="#ff1b1b"/>
<rect x="1321.6" y="367" width="23.7" height="16.3" fill="#ff2525"/>
<rect x="1321.6" y="383" width="23.7" height="16.3" fill="#ff3030"/>
<rect x="1321.6" y="399" width="23.7" height="16.3" fill="#ff3a3a"/>
<rect x="1321.6" y="415" width="23.7" height="16.3" fill="#ff4545"/>
<rect x="1321.6" y="430.9" width="23.7" height="16.3" fill="#ff5050"/>
<rect x="1321.6" y="446.9" width="23.7" height="16.3" fill="#ff5a5a"/>
<rect x="1321.6" y="462.9" width="23.7" height="16.3" fill="#ff6565"/>
<rect x="1321.6" y="478.9" width="23.7" height="16.3" fill="#ff7070"/>
<rect x="1321.6" y="494.8" width="23.7" height="16.3" fill="#ff7a7a"/>
<rect x="1321.6" y="510.8" width="23.7" height="16.3" fill="#ff8585"/>
<rect x="1321.6" y="526.8" width="23.7" height="16.3" fill="#ff8f8f"/>
<rect x="1321.6" y="542.8" width="23.7" height="16.3" fill="#ff9a9a"/>
<rect x="1321.6" y="558.7" width="23.7" height="16.3" fill="#ffa5a5"/>
<rect x="1321.6" y="574.7" width="23.7" height="16.3" fill="#ffafaf"/>
<rect x="1321.6" y="590.7" width="23.7" height="16.3" fill="#ffbaba"/>
<rect x="1321.6" y="606.7" width="23.7" height="16.3" fill="#ffc5c5"/>
<rect x="1321.6" y="622.6" width="23.7" height="16.3" fill="#ffcfcf"/>
<rect x="1321.6" y="638.6" width="23.7" height="16.3" fill="#ffdada"/>
<rect x="1321.6" y="654.6" width="23.7" height="16.3" fill="#ffe4e4"/>
<rect x="1321.6" y="670.5" width="23.7" height="64.2" fill="#ffffff"/>
<rect x="1321.6" y="734.5" width="23.7" height="16.3" fill="#d7d7ff"/>
<rect x="1321.6" y="750.4" width="23.7" height="16.3" fill="#c7c7ff"/>
<rect x="1321.6" y="766.4" width="23.7" height="16.3" fill="#b7b7ff"/>
<rect x="1321.6" y="782.4" width="23.7" height="16.3" fill="#a7a7ff"/>
<rect x="1321.6" y="798.4" width="23.7" height="16.3" fill="#9797ff"/>
<rect x="1321.6" y="814.3" width="23.7" height="16.3" fill="#8787ff"/>
<rect x="1321.6" y="830.3" width="23.7" height="16.3" fill="#7878ff"/>
<rect x="1321.6" y="846.3" width="23.7" height="16.3" fill="#6868ff"/>
<rect x="1321.6" y="862.2" width="23.7" height="16.3" fill="#5858ff"/>
<rect x="1321.6" y="878.2" width="23.7" height="16.3" fill="#4848ff"/>
<rect x="1321.6" y="894.2" width="23.7" height="16.3" fill="#3838ff"/>
<rect x="1321.6" y="910.2" width="23.7" height="16.3" fill="#2828ff"/>
<rect x="1321.6" y="926.1" width="23.7" height="16.3" fill="#1818ff"/>
<rect x="1321.6" y="942.1" width="23.7" height="16.3" fill="#0808ff"/>
<rect x="1321.6" y="319.1" width="23.7" height="639" fill="none" stroke="#000" stroke-width="1.3"/>
<text x="1356.8" y="324.9" font-family="'Liberation Serif', serif" font-size="15.8" fill="#000">0.6</text>
<text x="1356.8" y="388.8" font-family="'Liberation Serif', serif" font-size="15.8" fill="#000">0.5</text>
<text x="1356.8" y="452.7" font-family="'Liberation Serif', serif" font-size="15.8" fill="#000">0.4</text>
<text x="1356.8" y="516.6" font-family="'Liberation Serif', serif" font-size="15.8" fill="#000">0.3</text>
<text x="1356.8" y="580.5" font-family="'Liberation Serif', serif" font-size="15.8" fill="#000">0.2</text>
<text x="1356.8" y="644.4" font-family="'Liberation Serif', serif" font-size="15.8" fill="#000">0.1</text>
<text x="1356.8" y="708.3" font-family="'Liberation Serif', serif" font-size="15.8" fill="#000">0.0</text>
<text x="1356.8" y="772.2" font-family="'Liberation Serif', serif" font-size="15.8" fill="#000">−0.1</text>
<text x="1356.8" y="836.1" font-family="'Liberation Serif', serif" font-size="15.8" fill="#000">−0.2</text>
<text x="1356.8" y="900" font-family="'Liberation Serif', serif" font-size="15.8" fill="#000">−0.3</text>
<text x="1356.8" y="963.9" font-family="'Liberation Serif', serif" font-size="15.8" fill="#000">−0.4</text>
<path d="M1345.3,319.1h5.5M1345.3,383h5.5M1345.3,446.9h5.5M1345.3,510.8h5.5M1345.3,574.7h5.5M1345.3,638.6h5.5M1345.3,702.5h5.5M1345.3,766.4h5.5M1345.3,830.3h5.5M1345.3,894.2h5.5M1345.3,958.1h5.5" stroke="#000" stroke-width="1.1" fill="none"/>
<text transform="translate(1403.7,638.4) rotate(-90)" text-anchor="middle" font-family="'Liberation Serif', serif" font-size="15.85" fill="#8b0000">Discrepancies between SLR scenarios and control (m)</text>
</svg></body></html>
